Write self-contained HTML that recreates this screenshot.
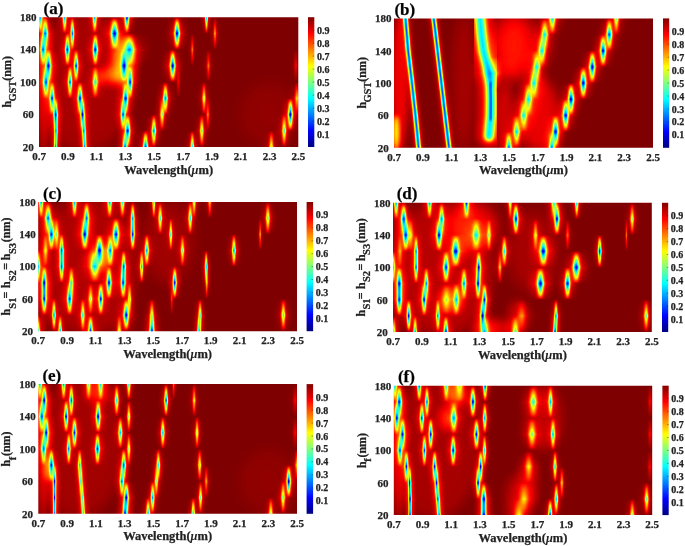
<!DOCTYPE html><html><head><meta charset="utf-8"><style>html,body{margin:0;padding:0;background:#fff;width:685px;height:546px;overflow:hidden}svg{display:block;will-change:transform}</style></head><body>
<svg width="685" height="546" viewBox="0 0 685 546">
<defs>
<filter id="jet" x="0" y="0" width="1" height="1" color-interpolation-filters="sRGB"><feComponentTransfer><feFuncR type="table" tableValues="0 0 0 0 0.5 1 1 1 0.5"/><feFuncG type="table" tableValues="0 0 0.5 1 1 1 0.5 0 0"/><feFuncB type="table" tableValues="0.5 1 1 1 0.5 0 0 0 0"/></feComponentTransfer></filter>
<linearGradient id="cbg" x1="0" y1="1" x2="0" y2="0"><stop offset="0" stop-color="#000080"/><stop offset="0.125" stop-color="#0000ff"/><stop offset="0.375" stop-color="#00ffff"/><stop offset="0.5" stop-color="#80ff80"/><stop offset="0.625" stop-color="#ffff00"/><stop offset="0.875" stop-color="#ff0000"/><stop offset="1" stop-color="#800000"/></linearGradient>
<linearGradient id="hp" x1="0" y1="0" x2="1" y2="0"><stop offset="0.0000" stop-opacity="0.000"/><stop offset="0.0167" stop-opacity="0.004"/><stop offset="0.0333" stop-opacity="0.009"/><stop offset="0.0500" stop-opacity="0.015"/><stop offset="0.0667" stop-opacity="0.023"/><stop offset="0.0833" stop-opacity="0.033"/><stop offset="0.1000" stop-opacity="0.046"/><stop offset="0.1167" stop-opacity="0.061"/><stop offset="0.1333" stop-opacity="0.079"/><stop offset="0.1500" stop-opacity="0.100"/><stop offset="0.1667" stop-opacity="0.126"/><stop offset="0.1833" stop-opacity="0.155"/><stop offset="0.2000" stop-opacity="0.189"/><stop offset="0.2167" stop-opacity="0.227"/><stop offset="0.2333" stop-opacity="0.270"/><stop offset="0.2500" stop-opacity="0.317"/><stop offset="0.2667" stop-opacity="0.368"/><stop offset="0.2833" stop-opacity="0.423"/><stop offset="0.3000" stop-opacity="0.481"/><stop offset="0.3167" stop-opacity="0.541"/><stop offset="0.3333" stop-opacity="0.602"/><stop offset="0.3500" stop-opacity="0.663"/><stop offset="0.3667" stop-opacity="0.723"/><stop offset="0.3833" stop-opacity="0.780"/><stop offset="0.4000" stop-opacity="0.833"/><stop offset="0.4167" stop-opacity="0.881"/><stop offset="0.4333" stop-opacity="0.922"/><stop offset="0.4500" stop-opacity="0.956"/><stop offset="0.4667" stop-opacity="0.980"/><stop offset="0.4833" stop-opacity="0.995"/><stop offset="0.5000" stop-opacity="1.000"/><stop offset="0.5167" stop-opacity="0.995"/><stop offset="0.5333" stop-opacity="0.980"/><stop offset="0.5500" stop-opacity="0.956"/><stop offset="0.5667" stop-opacity="0.922"/><stop offset="0.5833" stop-opacity="0.881"/><stop offset="0.6000" stop-opacity="0.833"/><stop offset="0.6167" stop-opacity="0.780"/><stop offset="0.6333" stop-opacity="0.723"/><stop offset="0.6500" stop-opacity="0.663"/><stop offset="0.6667" stop-opacity="0.602"/><stop offset="0.6833" stop-opacity="0.541"/><stop offset="0.7000" stop-opacity="0.481"/><stop offset="0.7167" stop-opacity="0.423"/><stop offset="0.7333" stop-opacity="0.368"/><stop offset="0.7500" stop-opacity="0.317"/><stop offset="0.7667" stop-opacity="0.270"/><stop offset="0.7833" stop-opacity="0.227"/><stop offset="0.8000" stop-opacity="0.189"/><stop offset="0.8167" stop-opacity="0.155"/><stop offset="0.8333" stop-opacity="0.126"/><stop offset="0.8500" stop-opacity="0.100"/><stop offset="0.8667" stop-opacity="0.079"/><stop offset="0.8833" stop-opacity="0.061"/><stop offset="0.9000" stop-opacity="0.046"/><stop offset="0.9167" stop-opacity="0.033"/><stop offset="0.9333" stop-opacity="0.023"/><stop offset="0.9500" stop-opacity="0.015"/><stop offset="0.9667" stop-opacity="0.009"/><stop offset="0.9833" stop-opacity="0.004"/><stop offset="1.0000" stop-opacity="0.000"/></linearGradient>
<linearGradient id="tg" x1="0" y1="0" x2="0" y2="1"><stop offset="0.0000" stop-color="#fff" stop-opacity="0.0"/><stop offset="0.0750" stop-color="#fff" stop-opacity="0.15"/><stop offset="0.1500" stop-color="#fff" stop-opacity="0.3"/><stop offset="0.2500" stop-color="#fff" stop-opacity="0.47"/><stop offset="0.3500" stop-color="#fff" stop-opacity="0.64"/><stop offset="0.4250" stop-color="#fff" stop-opacity="0.8"/><stop offset="0.5000" stop-color="#fff" stop-opacity="1.0"/><stop offset="0.5750" stop-color="#fff" stop-opacity="0.8"/><stop offset="0.6500" stop-color="#fff" stop-opacity="0.64"/><stop offset="0.7500" stop-color="#fff" stop-opacity="0.47"/><stop offset="0.8500" stop-color="#fff" stop-opacity="0.3"/><stop offset="0.9250" stop-color="#fff" stop-opacity="0.15"/><stop offset="1.0000" stop-color="#fff" stop-opacity="0.0"/></linearGradient>
<mask id="tent" style="mask-type:alpha" maskContentUnits="objectBoundingBox" x="0" y="0" width="1" height="1"><rect width="1" height="1" fill="url(#tg)"/></mask>
<filter id="b0_6" x="-50%" y="-50%" width="200%" height="200%"><feGaussianBlur stdDeviation="0.6"/></filter>
<filter id="b1" x="-50%" y="-50%" width="200%" height="200%"><feGaussianBlur stdDeviation="1"/></filter>
<filter id="b1_2" x="-50%" y="-50%" width="200%" height="200%"><feGaussianBlur stdDeviation="1.2"/></filter>
<filter id="b1_5" x="-50%" y="-50%" width="200%" height="200%"><feGaussianBlur stdDeviation="1.5"/></filter>
<filter id="b2" x="-50%" y="-50%" width="200%" height="200%"><feGaussianBlur stdDeviation="2"/></filter>
<filter id="b2_3" x="-50%" y="-50%" width="200%" height="200%"><feGaussianBlur stdDeviation="2.3"/></filter>
<filter id="b2_5" x="-50%" y="-50%" width="200%" height="200%"><feGaussianBlur stdDeviation="2.5"/></filter>
<filter id="b3" x="-50%" y="-50%" width="200%" height="200%"><feGaussianBlur stdDeviation="3"/></filter>
<filter id="b4" x="-50%" y="-50%" width="200%" height="200%"><feGaussianBlur stdDeviation="4"/></filter>
<filter id="b5" x="-50%" y="-50%" width="200%" height="200%"><feGaussianBlur stdDeviation="5"/></filter>
<filter id="b6" x="-50%" y="-50%" width="200%" height="200%"><feGaussianBlur stdDeviation="6"/></filter>
<filter id="b8" x="-50%" y="-50%" width="200%" height="200%"><feGaussianBlur stdDeviation="8"/></filter>
<clipPath id="clipa"><rect x="39" y="17.2" width="259.30" height="129.80"/></clipPath>
<clipPath id="clipb"><rect x="394" y="18.4" width="259.00" height="129.40"/></clipPath>
<clipPath id="clipc"><rect x="38.2" y="202" width="258.80" height="129.20"/></clipPath>
<clipPath id="clipd"><rect x="393" y="202.8" width="258.80" height="129.20"/></clipPath>
<clipPath id="clipe"><rect x="38.3" y="384.1" width="258.70" height="129.70"/></clipPath>
<clipPath id="clipf"><rect x="393.8" y="385.7" width="258.40" height="129.40"/></clipPath>
</defs>
<g clip-path="url(#clipa)"><g filter="url(#jet)">
<rect x="34" y="12.2" width="269.30" height="139.80" fill="#fff"/>
<ellipse cx="84.0" cy="82.1" rx="50.0" ry="69.0" fill="#000" opacity="0.035" filter="url(#b6)"/>
<ellipse cx="44.0" cy="82.1" rx="7.0" ry="69.0" fill="#000" opacity="0.07" filter="url(#b3)"/>
<ellipse cx="123.0" cy="61.8" rx="12.0" ry="24.3" fill="#000" opacity="0.2" filter="url(#b5)"/>
<ellipse cx="109.0" cy="75.6" rx="12.0" ry="8.1" fill="#000" opacity="0.15" filter="url(#b4)"/>
<ellipse cx="269.0" cy="114.5" rx="30.0" ry="32.5" fill="#000" opacity="0.015" filter="url(#b8)"/>
<rect x="36.2" y="1.0" width="8.1" height="32.5" fill="url(#hp)" mask="url(#tent)" opacity="0.7"/>
<rect x="28.1" y="-0.6" width="24.3" height="35.7" fill="url(#hp)" mask="url(#tent)" opacity="0.119"/>
<rect x="61.1" y="1.0" width="7.0" height="32.5" fill="url(#hp)" mask="url(#tent)" opacity="0.7"/>
<rect x="54.1" y="-0.6" width="21.1" height="35.7" fill="url(#hp)" mask="url(#tent)" opacity="0.119"/>
<rect x="90.9" y="1.0" width="7.6" height="32.5" fill="url(#hp)" mask="url(#tent)" opacity="0.7"/>
<rect x="83.4" y="-0.6" width="22.7" height="35.7" fill="url(#hp)" mask="url(#tent)" opacity="0.119"/>
<rect x="122.6" y="1.0" width="8.6" height="32.5" fill="url(#hp)" mask="url(#tent)" opacity="0.9"/>
<rect x="113.9" y="-0.6" width="25.9" height="35.7" fill="url(#hp)" mask="url(#tent)" opacity="0.153"/>
<rect x="203.8" y="1.0" width="5.4" height="32.5" fill="url(#hp)" mask="url(#tent)" opacity="0.65"/>
<rect x="198.4" y="-0.6" width="16.2" height="35.7" fill="url(#hp)" mask="url(#tent)" opacity="0.111"/>
<rect x="40.4" y="17.2" width="9.7" height="32.5" fill="url(#hp)" mask="url(#tent)" opacity="0.75"/>
<rect x="30.7" y="15.6" width="29.2" height="35.7" fill="url(#hp)" mask="url(#tent)" opacity="0.128"/>
<rect x="69.1" y="17.2" width="6.5" height="32.5" fill="url(#hp)" mask="url(#tent)" opacity="0.75"/>
<rect x="62.6" y="15.6" width="19.4" height="35.7" fill="url(#hp)" mask="url(#tent)" opacity="0.128"/>
<rect x="108.0" y="17.2" width="13.0" height="32.5" fill="url(#hp)" mask="url(#tent)" opacity="0.92"/>
<rect x="95.1" y="15.6" width="38.9" height="35.7" fill="url(#hp)" mask="url(#tent)" opacity="0.156"/>
<rect x="172.2" y="17.2" width="9.7" height="32.5" fill="url(#hp)" mask="url(#tent)" opacity="0.92"/>
<rect x="162.5" y="15.6" width="29.2" height="35.7" fill="url(#hp)" mask="url(#tent)" opacity="0.156"/>
<rect x="212.0" y="17.2" width="5.9" height="32.5" fill="url(#hp)" mask="url(#tent)" opacity="0.25"/>
<rect x="206.1" y="15.6" width="17.8" height="35.7" fill="url(#hp)" mask="url(#tent)" opacity="0.043"/>
<rect x="38.3" y="33.4" width="9.7" height="32.5" fill="url(#hp)" mask="url(#tent)" opacity="0.75"/>
<rect x="28.6" y="31.8" width="29.2" height="35.7" fill="url(#hp)" mask="url(#tent)" opacity="0.128"/>
<rect x="63.6" y="33.4" width="7.6" height="32.5" fill="url(#hp)" mask="url(#tent)" opacity="0.88"/>
<rect x="56.1" y="31.8" width="22.7" height="35.7" fill="url(#hp)" mask="url(#tent)" opacity="0.150"/>
<rect x="91.0" y="33.4" width="8.6" height="32.5" fill="url(#hp)" mask="url(#tent)" opacity="0.9"/>
<rect x="82.3" y="31.8" width="25.9" height="35.7" fill="url(#hp)" mask="url(#tent)" opacity="0.153"/>
<rect x="120.3" y="33.4" width="18.4" height="32.5" fill="url(#hp)" mask="url(#tent)" opacity="0.66"/>
<rect x="102.0" y="31.8" width="55.1" height="35.7" fill="url(#hp)" mask="url(#tent)" opacity="0.112"/>
<rect x="189.6" y="33.4" width="5.4" height="32.5" fill="url(#hp)" mask="url(#tent)" opacity="0.2"/>
<rect x="184.2" y="31.8" width="16.2" height="35.7" fill="url(#hp)" mask="url(#tent)" opacity="0.034"/>
<rect x="43.6" y="49.6" width="9.7" height="32.5" fill="url(#hp)" mask="url(#tent)" opacity="0.88"/>
<rect x="33.9" y="48.0" width="29.2" height="35.7" fill="url(#hp)" mask="url(#tent)" opacity="0.150"/>
<rect x="72.3" y="49.6" width="7.6" height="32.5" fill="url(#hp)" mask="url(#tent)" opacity="0.82"/>
<rect x="64.8" y="48.0" width="22.7" height="35.7" fill="url(#hp)" mask="url(#tent)" opacity="0.139"/>
<rect x="118.9" y="49.6" width="10.3" height="32.5" fill="url(#hp)" mask="url(#tent)" opacity="0.92"/>
<rect x="108.6" y="48.0" width="30.8" height="35.7" fill="url(#hp)" mask="url(#tent)" opacity="0.156"/>
<rect x="167.8" y="49.6" width="9.7" height="32.5" fill="url(#hp)" mask="url(#tent)" opacity="0.92"/>
<rect x="158.1" y="48.0" width="29.2" height="35.7" fill="url(#hp)" mask="url(#tent)" opacity="0.156"/>
<rect x="205.2" y="49.6" width="6.5" height="32.5" fill="url(#hp)" mask="url(#tent)" opacity="0.2"/>
<rect x="198.7" y="48.0" width="19.4" height="35.7" fill="url(#hp)" mask="url(#tent)" opacity="0.034"/>
<rect x="291.9" y="49.6" width="8.1" height="32.5" fill="url(#hp)" mask="url(#tent)" opacity="0.1"/>
<rect x="283.9" y="48.0" width="24.3" height="35.7" fill="url(#hp)" mask="url(#tent)" opacity="0.017"/>
<rect x="41.1" y="65.9" width="9.7" height="32.5" fill="url(#hp)" mask="url(#tent)" opacity="0.8"/>
<rect x="31.4" y="64.3" width="29.2" height="35.7" fill="url(#hp)" mask="url(#tent)" opacity="0.136"/>
<rect x="66.2" y="65.9" width="7.6" height="32.5" fill="url(#hp)" mask="url(#tent)" opacity="0.75"/>
<rect x="58.7" y="64.3" width="22.7" height="35.7" fill="url(#hp)" mask="url(#tent)" opacity="0.128"/>
<rect x="90.4" y="65.9" width="9.7" height="32.5" fill="url(#hp)" mask="url(#tent)" opacity="0.55"/>
<rect x="80.7" y="64.3" width="29.2" height="35.7" fill="url(#hp)" mask="url(#tent)" opacity="0.094"/>
<rect x="125.8" y="65.9" width="8.6" height="32.5" fill="url(#hp)" mask="url(#tent)" opacity="0.82"/>
<rect x="117.1" y="64.3" width="25.9" height="35.7" fill="url(#hp)" mask="url(#tent)" opacity="0.139"/>
<rect x="175.4" y="65.9" width="5.9" height="32.5" fill="url(#hp)" mask="url(#tent)" opacity="0.1"/>
<rect x="169.5" y="64.3" width="17.8" height="35.7" fill="url(#hp)" mask="url(#tent)" opacity="0.017"/>
<rect x="47.8" y="82.1" width="8.6" height="32.5" fill="url(#hp)" mask="url(#tent)" opacity="0.82"/>
<rect x="39.1" y="80.5" width="25.9" height="35.7" fill="url(#hp)" mask="url(#tent)" opacity="0.139"/>
<rect x="75.7" y="82.1" width="8.6" height="32.5" fill="url(#hp)" mask="url(#tent)" opacity="0.86"/>
<rect x="67.0" y="80.5" width="25.9" height="35.7" fill="url(#hp)" mask="url(#tent)" opacity="0.146"/>
<rect x="121.0" y="82.1" width="9.2" height="32.5" fill="url(#hp)" mask="url(#tent)" opacity="0.9"/>
<rect x="111.8" y="80.5" width="27.5" height="35.7" fill="url(#hp)" mask="url(#tent)" opacity="0.153"/>
<rect x="161.1" y="82.1" width="8.6" height="32.5" fill="url(#hp)" mask="url(#tent)" opacity="0.72"/>
<rect x="152.4" y="80.5" width="25.9" height="35.7" fill="url(#hp)" mask="url(#tent)" opacity="0.122"/>
<rect x="200.5" y="82.1" width="7.0" height="32.5" fill="url(#hp)" mask="url(#tent)" opacity="0.42"/>
<rect x="193.5" y="80.5" width="21.1" height="35.7" fill="url(#hp)" mask="url(#tent)" opacity="0.071"/>
<rect x="292.7" y="82.1" width="8.6" height="32.5" fill="url(#hp)" mask="url(#tent)" opacity="0.3"/>
<rect x="284.0" y="80.5" width="25.9" height="35.7" fill="url(#hp)" mask="url(#tent)" opacity="0.051"/>
<rect x="52.1" y="98.3" width="7.0" height="32.5" fill="url(#hp)" mask="url(#tent)" opacity="0.9"/>
<rect x="45.1" y="96.7" width="21.1" height="35.7" fill="url(#hp)" mask="url(#tent)" opacity="0.153"/>
<rect x="78.7" y="98.3" width="7.6" height="32.5" fill="url(#hp)" mask="url(#tent)" opacity="0.9"/>
<rect x="71.2" y="96.7" width="22.7" height="35.7" fill="url(#hp)" mask="url(#tent)" opacity="0.153"/>
<rect x="118.8" y="98.3" width="8.6" height="32.5" fill="url(#hp)" mask="url(#tent)" opacity="0.78"/>
<rect x="110.1" y="96.7" width="25.9" height="35.7" fill="url(#hp)" mask="url(#tent)" opacity="0.133"/>
<rect x="158.1" y="98.3" width="8.1" height="32.5" fill="url(#hp)" mask="url(#tent)" opacity="0.45"/>
<rect x="150.0" y="96.7" width="24.3" height="35.7" fill="url(#hp)" mask="url(#tent)" opacity="0.077"/>
<rect x="204.6" y="98.3" width="6.5" height="32.5" fill="url(#hp)" mask="url(#tent)" opacity="0.22"/>
<rect x="198.1" y="96.7" width="19.4" height="35.7" fill="url(#hp)" mask="url(#tent)" opacity="0.037"/>
<rect x="286.1" y="98.3" width="8.6" height="32.5" fill="url(#hp)" mask="url(#tent)" opacity="0.92"/>
<rect x="277.4" y="96.7" width="25.9" height="35.7" fill="url(#hp)" mask="url(#tent)" opacity="0.156"/>
<rect x="53.0" y="114.6" width="5.9" height="32.5" fill="url(#hp)" mask="url(#tent)" opacity="0.72"/>
<rect x="47.1" y="112.9" width="17.8" height="35.7" fill="url(#hp)" mask="url(#tent)" opacity="0.122"/>
<rect x="80.6" y="114.6" width="6.5" height="32.5" fill="url(#hp)" mask="url(#tent)" opacity="0.72"/>
<rect x="74.1" y="112.9" width="19.4" height="35.7" fill="url(#hp)" mask="url(#tent)" opacity="0.122"/>
<rect x="123.0" y="114.6" width="9.2" height="32.5" fill="url(#hp)" mask="url(#tent)" opacity="0.9"/>
<rect x="113.8" y="112.9" width="27.5" height="35.7" fill="url(#hp)" mask="url(#tent)" opacity="0.153"/>
<rect x="149.8" y="114.6" width="8.1" height="32.5" fill="url(#hp)" mask="url(#tent)" opacity="0.72"/>
<rect x="141.7" y="112.9" width="24.3" height="35.7" fill="url(#hp)" mask="url(#tent)" opacity="0.122"/>
<rect x="198.0" y="114.6" width="7.6" height="32.5" fill="url(#hp)" mask="url(#tent)" opacity="0.5"/>
<rect x="190.5" y="112.9" width="22.7" height="35.7" fill="url(#hp)" mask="url(#tent)" opacity="0.085"/>
<rect x="280.1" y="114.6" width="8.1" height="32.5" fill="url(#hp)" mask="url(#tent)" opacity="0.52"/>
<rect x="272.0" y="112.9" width="24.3" height="35.7" fill="url(#hp)" mask="url(#tent)" opacity="0.088"/>
<rect x="52.6" y="130.8" width="5.9" height="32.5" fill="url(#hp)" mask="url(#tent)" opacity="0.72"/>
<rect x="46.7" y="129.2" width="17.8" height="35.7" fill="url(#hp)" mask="url(#tent)" opacity="0.122"/>
<rect x="81.5" y="130.8" width="6.5" height="32.5" fill="url(#hp)" mask="url(#tent)" opacity="0.72"/>
<rect x="75.0" y="129.2" width="19.4" height="35.7" fill="url(#hp)" mask="url(#tent)" opacity="0.122"/>
<rect x="120.7" y="130.8" width="8.6" height="32.5" fill="url(#hp)" mask="url(#tent)" opacity="0.78"/>
<rect x="112.0" y="129.2" width="25.9" height="35.7" fill="url(#hp)" mask="url(#tent)" opacity="0.133"/>
<rect x="141.2" y="130.8" width="8.6" height="32.5" fill="url(#hp)" mask="url(#tent)" opacity="0.86"/>
<rect x="132.5" y="129.2" width="25.9" height="35.7" fill="url(#hp)" mask="url(#tent)" opacity="0.146"/>
<rect x="188.8" y="130.8" width="7.0" height="32.5" fill="url(#hp)" mask="url(#tent)" opacity="0.62"/>
<rect x="181.8" y="129.2" width="21.1" height="35.7" fill="url(#hp)" mask="url(#tent)" opacity="0.105"/>
<rect x="267.3" y="130.8" width="8.1" height="32.5" fill="url(#hp)" mask="url(#tent)" opacity="0.42"/>
<rect x="259.2" y="129.2" width="24.3" height="35.7" fill="url(#hp)" mask="url(#tent)" opacity="0.071"/>
</g></g>
<rect x="308" y="17.2" width="6.30" height="129.80" fill="url(#cbg)"/>
<line x1="312.7" y1="134.0" x2="314.3" y2="134.0" stroke="#222" stroke-width="0.7" stroke-opacity="0.6"/>
<line x1="312.7" y1="121.0" x2="314.3" y2="121.0" stroke="#222" stroke-width="0.7" stroke-opacity="0.6"/>
<line x1="312.7" y1="108.1" x2="314.3" y2="108.1" stroke="#222" stroke-width="0.7" stroke-opacity="0.6"/>
<line x1="312.7" y1="95.1" x2="314.3" y2="95.1" stroke="#222" stroke-width="0.7" stroke-opacity="0.6"/>
<line x1="312.7" y1="82.1" x2="314.3" y2="82.1" stroke="#222" stroke-width="0.7" stroke-opacity="0.6"/>
<line x1="312.7" y1="69.1" x2="314.3" y2="69.1" stroke="#222" stroke-width="0.7" stroke-opacity="0.6"/>
<line x1="312.7" y1="56.1" x2="314.3" y2="56.1" stroke="#222" stroke-width="0.7" stroke-opacity="0.6"/>
<line x1="312.7" y1="43.2" x2="314.3" y2="43.2" stroke="#222" stroke-width="0.7" stroke-opacity="0.6"/>
<line x1="312.7" y1="30.2" x2="314.3" y2="30.2" stroke="#222" stroke-width="0.7" stroke-opacity="0.6"/>
<text x="316.9" y="137.5" style="font-family:'Liberation Serif',serif;font-weight:bold;stroke:#222;stroke-width:0.25px;font-size:10px" fill="#222">0.1</text>
<text x="316.9" y="124.5" style="font-family:'Liberation Serif',serif;font-weight:bold;stroke:#222;stroke-width:0.25px;font-size:10px" fill="#222">0.2</text>
<text x="316.9" y="111.6" style="font-family:'Liberation Serif',serif;font-weight:bold;stroke:#222;stroke-width:0.25px;font-size:10px" fill="#222">0.3</text>
<text x="316.9" y="98.6" style="font-family:'Liberation Serif',serif;font-weight:bold;stroke:#222;stroke-width:0.25px;font-size:10px" fill="#222">0.4</text>
<text x="316.9" y="85.6" style="font-family:'Liberation Serif',serif;font-weight:bold;stroke:#222;stroke-width:0.25px;font-size:10px" fill="#222">0.5</text>
<text x="316.9" y="72.6" style="font-family:'Liberation Serif',serif;font-weight:bold;stroke:#222;stroke-width:0.25px;font-size:10px" fill="#222">0.6</text>
<text x="316.9" y="59.6" style="font-family:'Liberation Serif',serif;font-weight:bold;stroke:#222;stroke-width:0.25px;font-size:10px" fill="#222">0.7</text>
<text x="316.9" y="46.7" style="font-family:'Liberation Serif',serif;font-weight:bold;stroke:#222;stroke-width:0.25px;font-size:10px" fill="#222">0.8</text>
<text x="316.9" y="33.7" style="font-family:'Liberation Serif',serif;font-weight:bold;stroke:#222;stroke-width:0.25px;font-size:10px" fill="#222">0.9</text>
<text x="28.2" y="150.8" text-anchor="middle" style="font-family:'Liberation Serif',serif;font-weight:bold;stroke:#222;stroke-width:0.25px;font-size:11px" fill="#222">20</text>
<text x="28.2" y="118.3" text-anchor="middle" style="font-family:'Liberation Serif',serif;font-weight:bold;stroke:#222;stroke-width:0.25px;font-size:11px" fill="#222">60</text>
<text x="28.2" y="85.9" text-anchor="middle" style="font-family:'Liberation Serif',serif;font-weight:bold;stroke:#222;stroke-width:0.25px;font-size:11px" fill="#222">100</text>
<text x="28.2" y="53.4" text-anchor="middle" style="font-family:'Liberation Serif',serif;font-weight:bold;stroke:#222;stroke-width:0.25px;font-size:11px" fill="#222">140</text>
<text x="28.2" y="21.0" text-anchor="middle" style="font-family:'Liberation Serif',serif;font-weight:bold;stroke:#222;stroke-width:0.25px;font-size:11px" fill="#222">180</text>
<text x="39.0" y="160.0" text-anchor="middle" style="font-family:'Liberation Serif',serif;font-weight:bold;stroke:#222;stroke-width:0.25px;font-size:11px" fill="#222">0.7</text>
<text x="67.8" y="160.0" text-anchor="middle" style="font-family:'Liberation Serif',serif;font-weight:bold;stroke:#222;stroke-width:0.25px;font-size:11px" fill="#222">0.9</text>
<text x="96.6" y="160.0" text-anchor="middle" style="font-family:'Liberation Serif',serif;font-weight:bold;stroke:#222;stroke-width:0.25px;font-size:11px" fill="#222">1.1</text>
<text x="125.4" y="160.0" text-anchor="middle" style="font-family:'Liberation Serif',serif;font-weight:bold;stroke:#222;stroke-width:0.25px;font-size:11px" fill="#222">1.3</text>
<text x="154.2" y="160.0" text-anchor="middle" style="font-family:'Liberation Serif',serif;font-weight:bold;stroke:#222;stroke-width:0.25px;font-size:11px" fill="#222">1.5</text>
<text x="183.1" y="160.0" text-anchor="middle" style="font-family:'Liberation Serif',serif;font-weight:bold;stroke:#222;stroke-width:0.25px;font-size:11px" fill="#222">1.7</text>
<text x="211.9" y="160.0" text-anchor="middle" style="font-family:'Liberation Serif',serif;font-weight:bold;stroke:#222;stroke-width:0.25px;font-size:11px" fill="#222">1.9</text>
<text x="240.7" y="160.0" text-anchor="middle" style="font-family:'Liberation Serif',serif;font-weight:bold;stroke:#222;stroke-width:0.25px;font-size:11px" fill="#222">2.1</text>
<text x="269.5" y="160.0" text-anchor="middle" style="font-family:'Liberation Serif',serif;font-weight:bold;stroke:#222;stroke-width:0.25px;font-size:11px" fill="#222">2.3</text>
<text x="298.3" y="160.0" text-anchor="middle" style="font-family:'Liberation Serif',serif;font-weight:bold;stroke:#222;stroke-width:0.25px;font-size:11px" fill="#222">2.5</text>
<text x="168.7" y="173.5" text-anchor="middle" style="font-family:'Liberation Serif',serif;font-weight:bold;stroke:#222;stroke-width:0.25px;font-size:12.5px" fill="#222">Wavelength(<tspan style="font-style:italic;stroke-width:0">&#956;</tspan>m)</text>
<text x="43.5" y="13.7" style="font-family:'Liberation Serif',serif;font-weight:bold;stroke:#222;stroke-width:0.25px;font-size:17px" fill="#000">(a)</text>
<text transform="rotate(-90)" x="-107.6" y="10.7" style="font-family:'Liberation Serif',serif;font-weight:bold;stroke:#222;stroke-width:0.25px;font-size:12px" fill="#222">h</text>
<text transform="rotate(-90)" x="-101.6" y="16.3" style="font-family:'Liberation Serif',serif;font-weight:bold;stroke:#222;stroke-width:0.25px;font-size:10.5px" fill="#222">GST</text>
<text transform="rotate(-90)" x="-80.7" y="10.7" style="font-family:'Liberation Serif',serif;font-weight:bold;stroke:#222;stroke-width:0.25px;font-size:12px" fill="#222">(nm)</text>
<g clip-path="url(#clipb)"><g filter="url(#jet)">
<rect x="389" y="13.399999999999999" width="269.00" height="139.40" fill="#fff"/>
<ellipse cx="400.0" cy="83.1" rx="8.0" ry="68.7" fill="#000" opacity="0.11" filter="url(#b3)"/>
<ellipse cx="396.0" cy="133.2" rx="3.0" ry="17.8" fill="#000" opacity="0.35" filter="url(#b2)"/>
<ellipse cx="464.0" cy="83.1" rx="12.0" ry="68.7" fill="#000" opacity="0.035" filter="url(#b6)"/>
<ellipse cx="514.0" cy="46.7" rx="22.0" ry="32.4" fill="#000" opacity="0.14" filter="url(#b8)"/>
<ellipse cx="539.0" cy="115.5" rx="20.0" ry="36.4" fill="#000" opacity="0.1" filter="url(#b6)"/>
<ellipse cx="504.0" cy="115.5" rx="10.0" ry="32.4" fill="#000" opacity="0.08" filter="url(#b5)"/>
<rect x="503.4" y="131.6" width="10.8" height="32.4" fill="url(#hp)" mask="url(#tent)" opacity="0.78"/>
<rect x="492.6" y="130.0" width="32.4" height="35.6" fill="url(#hp)" mask="url(#tent)" opacity="0.133"/>
<rect x="510.4" y="115.5" width="12.4" height="32.4" fill="url(#hp)" mask="url(#tent)" opacity="0.62"/>
<rect x="498.0" y="113.8" width="37.3" height="35.6" fill="url(#hp)" mask="url(#tent)" opacity="0.105"/>
<rect x="517.2" y="99.3" width="13.0" height="32.4" fill="url(#hp)" mask="url(#tent)" opacity="0.55"/>
<rect x="504.3" y="97.7" width="38.9" height="35.6" fill="url(#hp)" mask="url(#tent)" opacity="0.094"/>
<rect x="522.0" y="83.1" width="13.0" height="32.4" fill="url(#hp)" mask="url(#tent)" opacity="0.58"/>
<rect x="509.1" y="81.5" width="38.9" height="35.6" fill="url(#hp)" mask="url(#tent)" opacity="0.099"/>
<rect x="527.2" y="66.9" width="13.5" height="32.4" fill="url(#hp)" mask="url(#tent)" opacity="0.58"/>
<rect x="513.8" y="65.3" width="40.5" height="35.6" fill="url(#hp)" mask="url(#tent)" opacity="0.099"/>
<rect x="530.0" y="50.8" width="13.5" height="32.4" fill="url(#hp)" mask="url(#tent)" opacity="0.58"/>
<rect x="516.5" y="49.1" width="40.5" height="35.6" fill="url(#hp)" mask="url(#tent)" opacity="0.099"/>
<rect x="535.2" y="34.6" width="13.5" height="32.4" fill="url(#hp)" mask="url(#tent)" opacity="0.6"/>
<rect x="521.8" y="33.0" width="40.5" height="35.6" fill="url(#hp)" mask="url(#tent)" opacity="0.102"/>
<rect x="538.2" y="18.4" width="13.0" height="32.4" fill="url(#hp)" mask="url(#tent)" opacity="0.6"/>
<rect x="525.3" y="16.8" width="38.9" height="35.6" fill="url(#hp)" mask="url(#tent)" opacity="0.102"/>
<rect x="546.4" y="2.2" width="11.9" height="32.4" fill="url(#hp)" mask="url(#tent)" opacity="0.65"/>
<rect x="534.5" y="0.6" width="35.6" height="35.6" fill="url(#hp)" mask="url(#tent)" opacity="0.111"/>
<rect x="546.7" y="131.6" width="10.3" height="32.4" fill="url(#hp)" mask="url(#tent)" opacity="0.75"/>
<rect x="536.4" y="130.0" width="30.8" height="35.6" fill="url(#hp)" mask="url(#tent)" opacity="0.128"/>
<rect x="550.2" y="115.5" width="10.8" height="32.4" fill="url(#hp)" mask="url(#tent)" opacity="0.9"/>
<rect x="539.4" y="113.8" width="32.4" height="35.6" fill="url(#hp)" mask="url(#tent)" opacity="0.153"/>
<rect x="560.3" y="99.3" width="10.8" height="32.4" fill="url(#hp)" mask="url(#tent)" opacity="0.9"/>
<rect x="549.5" y="97.7" width="32.4" height="35.6" fill="url(#hp)" mask="url(#tent)" opacity="0.153"/>
<rect x="565.6" y="83.1" width="10.8" height="32.4" fill="url(#hp)" mask="url(#tent)" opacity="0.92"/>
<rect x="554.8" y="81.5" width="32.4" height="35.6" fill="url(#hp)" mask="url(#tent)" opacity="0.156"/>
<rect x="577.9" y="66.9" width="10.8" height="32.4" fill="url(#hp)" mask="url(#tent)" opacity="0.92"/>
<rect x="567.1" y="65.3" width="32.4" height="35.6" fill="url(#hp)" mask="url(#tent)" opacity="0.156"/>
<rect x="586.9" y="50.8" width="10.8" height="32.4" fill="url(#hp)" mask="url(#tent)" opacity="0.92"/>
<rect x="576.1" y="49.1" width="32.4" height="35.6" fill="url(#hp)" mask="url(#tent)" opacity="0.156"/>
<rect x="597.7" y="34.6" width="10.8" height="32.4" fill="url(#hp)" mask="url(#tent)" opacity="0.9"/>
<rect x="586.9" y="33.0" width="32.4" height="35.6" fill="url(#hp)" mask="url(#tent)" opacity="0.153"/>
<rect x="603.9" y="18.4" width="10.8" height="32.4" fill="url(#hp)" mask="url(#tent)" opacity="0.8"/>
<rect x="593.1" y="16.8" width="32.4" height="35.6" fill="url(#hp)" mask="url(#tent)" opacity="0.136"/>
<rect x="611.5" y="2.2" width="9.7" height="32.4" fill="url(#hp)" mask="url(#tent)" opacity="0.5"/>
<rect x="601.8" y="0.6" width="29.2" height="35.6" fill="url(#hp)" mask="url(#tent)" opacity="0.085"/>
<rect x="480.9" y="57.2" width="24.3" height="32.4" fill="url(#hp)" mask="url(#tent)" opacity="0.3"/>
<rect x="456.6" y="55.6" width="72.9" height="35.6" fill="url(#hp)" mask="url(#tent)" opacity="0.051"/>
<path d="M405.2,14.4 L408.2,50.8 L412.0,83.1 L415.5,115.5 L419.0,151.8" fill="none" stroke="#000" stroke-width="7" stroke-opacity="0.12" stroke-linecap="round" stroke-linejoin="round" filter="url(#b2_5)"/>
<path d="M433.3,14.4 L441.4,83.1 L449.5,151.8" fill="none" stroke="#000" stroke-width="7" stroke-opacity="0.12" stroke-linecap="round" stroke-linejoin="round" filter="url(#b2_5)"/>
<path d="M405.2,14.4 L408.2,50.8 L412.0,83.1 L415.5,115.5 L419.0,151.8" fill="none" stroke="#000" stroke-width="3" stroke-opacity="0.93" stroke-linecap="round" stroke-linejoin="round" filter="url(#b1)"/>
<path d="M433.3,14.4 L441.4,83.1 L449.5,151.8" fill="none" stroke="#000" stroke-width="3" stroke-opacity="0.95" stroke-linecap="round" stroke-linejoin="round" filter="url(#b1)"/>
<path d="M479.8,14.4 L481.5,34.6 L483.5,50.8 L487.5,66.9 L490.5,83.1 L491.0,99.3 L490.8,115.5 L489.5,130.0 L489.0,136.5" fill="none" stroke="#000" stroke-width="20" stroke-opacity="0.18" stroke-linecap="round" stroke-linejoin="round" filter="url(#b4)"/>
<path d="M479.8,14.4 L481.5,34.6 L483.5,50.8 L487.5,66.9 L490.5,83.1 L491.0,99.3 L490.8,115.5 L489.5,130.0 L489.0,136.5" fill="none" stroke="#000" stroke-width="8" stroke-opacity="0.6" stroke-linecap="round" stroke-linejoin="round" filter="url(#b2_3)"/>
<path d="M490.2,83.1 L491.0,99.3 L490.8,119.5" fill="none" stroke="#000" stroke-width="2.5" stroke-opacity="0.5" stroke-linecap="round" stroke-linejoin="round" filter="url(#b1_2)"/>
</g></g>
<rect x="663" y="18.4" width="6.20" height="129.40" fill="url(#cbg)"/>
<line x1="667.6" y1="134.9" x2="669.2" y2="134.9" stroke="#222" stroke-width="0.7" stroke-opacity="0.6"/>
<line x1="667.6" y1="121.9" x2="669.2" y2="121.9" stroke="#222" stroke-width="0.7" stroke-opacity="0.6"/>
<line x1="667.6" y1="109.0" x2="669.2" y2="109.0" stroke="#222" stroke-width="0.7" stroke-opacity="0.6"/>
<line x1="667.6" y1="96.0" x2="669.2" y2="96.0" stroke="#222" stroke-width="0.7" stroke-opacity="0.6"/>
<line x1="667.6" y1="83.1" x2="669.2" y2="83.1" stroke="#222" stroke-width="0.7" stroke-opacity="0.6"/>
<line x1="667.6" y1="70.2" x2="669.2" y2="70.2" stroke="#222" stroke-width="0.7" stroke-opacity="0.6"/>
<line x1="667.6" y1="57.2" x2="669.2" y2="57.2" stroke="#222" stroke-width="0.7" stroke-opacity="0.6"/>
<line x1="667.6" y1="44.3" x2="669.2" y2="44.3" stroke="#222" stroke-width="0.7" stroke-opacity="0.6"/>
<line x1="667.6" y1="31.3" x2="669.2" y2="31.3" stroke="#222" stroke-width="0.7" stroke-opacity="0.6"/>
<text x="671.8" y="138.4" style="font-family:'Liberation Serif',serif;font-weight:bold;stroke:#222;stroke-width:0.25px;font-size:10px" fill="#222">0.1</text>
<text x="671.8" y="125.4" style="font-family:'Liberation Serif',serif;font-weight:bold;stroke:#222;stroke-width:0.25px;font-size:10px" fill="#222">0.2</text>
<text x="671.8" y="112.5" style="font-family:'Liberation Serif',serif;font-weight:bold;stroke:#222;stroke-width:0.25px;font-size:10px" fill="#222">0.3</text>
<text x="671.8" y="99.5" style="font-family:'Liberation Serif',serif;font-weight:bold;stroke:#222;stroke-width:0.25px;font-size:10px" fill="#222">0.4</text>
<text x="671.8" y="86.6" style="font-family:'Liberation Serif',serif;font-weight:bold;stroke:#222;stroke-width:0.25px;font-size:10px" fill="#222">0.5</text>
<text x="671.8" y="73.7" style="font-family:'Liberation Serif',serif;font-weight:bold;stroke:#222;stroke-width:0.25px;font-size:10px" fill="#222">0.6</text>
<text x="671.8" y="60.7" style="font-family:'Liberation Serif',serif;font-weight:bold;stroke:#222;stroke-width:0.25px;font-size:10px" fill="#222">0.7</text>
<text x="671.8" y="47.8" style="font-family:'Liberation Serif',serif;font-weight:bold;stroke:#222;stroke-width:0.25px;font-size:10px" fill="#222">0.8</text>
<text x="671.8" y="34.8" style="font-family:'Liberation Serif',serif;font-weight:bold;stroke:#222;stroke-width:0.25px;font-size:10px" fill="#222">0.9</text>
<text x="383.2" y="151.6" text-anchor="middle" style="font-family:'Liberation Serif',serif;font-weight:bold;stroke:#222;stroke-width:0.25px;font-size:11px" fill="#222">20</text>
<text x="383.2" y="119.3" text-anchor="middle" style="font-family:'Liberation Serif',serif;font-weight:bold;stroke:#222;stroke-width:0.25px;font-size:11px" fill="#222">60</text>
<text x="383.2" y="86.9" text-anchor="middle" style="font-family:'Liberation Serif',serif;font-weight:bold;stroke:#222;stroke-width:0.25px;font-size:11px" fill="#222">100</text>
<text x="383.2" y="54.5" text-anchor="middle" style="font-family:'Liberation Serif',serif;font-weight:bold;stroke:#222;stroke-width:0.25px;font-size:11px" fill="#222">140</text>
<text x="383.2" y="22.2" text-anchor="middle" style="font-family:'Liberation Serif',serif;font-weight:bold;stroke:#222;stroke-width:0.25px;font-size:11px" fill="#222">180</text>
<text x="394.0" y="160.8" text-anchor="middle" style="font-family:'Liberation Serif',serif;font-weight:bold;stroke:#222;stroke-width:0.25px;font-size:11px" fill="#222">0.7</text>
<text x="422.8" y="160.8" text-anchor="middle" style="font-family:'Liberation Serif',serif;font-weight:bold;stroke:#222;stroke-width:0.25px;font-size:11px" fill="#222">0.9</text>
<text x="451.6" y="160.8" text-anchor="middle" style="font-family:'Liberation Serif',serif;font-weight:bold;stroke:#222;stroke-width:0.25px;font-size:11px" fill="#222">1.1</text>
<text x="480.3" y="160.8" text-anchor="middle" style="font-family:'Liberation Serif',serif;font-weight:bold;stroke:#222;stroke-width:0.25px;font-size:11px" fill="#222">1.3</text>
<text x="509.1" y="160.8" text-anchor="middle" style="font-family:'Liberation Serif',serif;font-weight:bold;stroke:#222;stroke-width:0.25px;font-size:11px" fill="#222">1.5</text>
<text x="537.9" y="160.8" text-anchor="middle" style="font-family:'Liberation Serif',serif;font-weight:bold;stroke:#222;stroke-width:0.25px;font-size:11px" fill="#222">1.7</text>
<text x="566.7" y="160.8" text-anchor="middle" style="font-family:'Liberation Serif',serif;font-weight:bold;stroke:#222;stroke-width:0.25px;font-size:11px" fill="#222">1.9</text>
<text x="595.4" y="160.8" text-anchor="middle" style="font-family:'Liberation Serif',serif;font-weight:bold;stroke:#222;stroke-width:0.25px;font-size:11px" fill="#222">2.1</text>
<text x="624.2" y="160.8" text-anchor="middle" style="font-family:'Liberation Serif',serif;font-weight:bold;stroke:#222;stroke-width:0.25px;font-size:11px" fill="#222">2.3</text>
<text x="653.0" y="160.8" text-anchor="middle" style="font-family:'Liberation Serif',serif;font-weight:bold;stroke:#222;stroke-width:0.25px;font-size:11px" fill="#222">2.5</text>
<text x="523.5" y="174.3" text-anchor="middle" style="font-family:'Liberation Serif',serif;font-weight:bold;stroke:#222;stroke-width:0.25px;font-size:12.5px" fill="#222">Wavelength(<tspan style="font-style:italic;stroke-width:0">&#956;</tspan>m)</text>
<text x="394.4" y="14.9" style="font-family:'Liberation Serif',serif;font-weight:bold;stroke:#222;stroke-width:0.25px;font-size:17px" fill="#000">(b)</text>
<text transform="rotate(-90)" x="-108.6" y="365.7" style="font-family:'Liberation Serif',serif;font-weight:bold;stroke:#222;stroke-width:0.25px;font-size:12px" fill="#222">h</text>
<text transform="rotate(-90)" x="-102.6" y="371.3" style="font-family:'Liberation Serif',serif;font-weight:bold;stroke:#222;stroke-width:0.25px;font-size:10.5px" fill="#222">GST</text>
<text transform="rotate(-90)" x="-81.7" y="365.7" style="font-family:'Liberation Serif',serif;font-weight:bold;stroke:#222;stroke-width:0.25px;font-size:12px" fill="#222">(nm)</text>
<g clip-path="url(#clipc)"><g filter="url(#jet)">
<rect x="33.2" y="197" width="268.80" height="139.20" fill="#fff"/>
<ellipse cx="88.2" cy="266.6" rx="50.0" ry="68.6" fill="#000" opacity="0.045" filter="url(#b6)"/>
<ellipse cx="100.2" cy="258.5" rx="12.0" ry="11.3" fill="#000" opacity="0.15" filter="url(#b4)"/>
<ellipse cx="43.2" cy="266.6" rx="6.0" ry="64.6" fill="#000" opacity="0.06" filter="url(#b3)"/>
<ellipse cx="168.2" cy="242.4" rx="25.0" ry="40.4" fill="#000" opacity="0.03" filter="url(#b8)"/>
<rect x="37.3" y="185.8" width="7.6" height="32.3" fill="url(#hp)" mask="url(#tent)" opacity="0.7"/>
<rect x="29.8" y="184.2" width="22.7" height="35.5" fill="url(#hp)" mask="url(#tent)" opacity="0.119"/>
<rect x="70.7" y="185.8" width="7.6" height="32.3" fill="url(#hp)" mask="url(#tent)" opacity="0.7"/>
<rect x="63.2" y="184.2" width="22.7" height="35.5" fill="url(#hp)" mask="url(#tent)" opacity="0.119"/>
<rect x="105.6" y="185.8" width="8.1" height="32.3" fill="url(#hp)" mask="url(#tent)" opacity="0.7"/>
<rect x="97.5" y="184.2" width="24.3" height="35.5" fill="url(#hp)" mask="url(#tent)" opacity="0.119"/>
<rect x="118.4" y="185.8" width="8.1" height="32.3" fill="url(#hp)" mask="url(#tent)" opacity="0.6"/>
<rect x="110.2" y="184.2" width="24.3" height="35.5" fill="url(#hp)" mask="url(#tent)" opacity="0.102"/>
<rect x="151.1" y="185.8" width="5.4" height="32.3" fill="url(#hp)" mask="url(#tent)" opacity="0.6"/>
<rect x="145.7" y="184.2" width="16.2" height="35.5" fill="url(#hp)" mask="url(#tent)" opacity="0.102"/>
<rect x="190.9" y="185.8" width="6.5" height="32.3" fill="url(#hp)" mask="url(#tent)" opacity="0.45"/>
<rect x="184.4" y="184.2" width="19.4" height="35.5" fill="url(#hp)" mask="url(#tent)" opacity="0.077"/>
<rect x="206.5" y="185.8" width="6.5" height="32.3" fill="url(#hp)" mask="url(#tent)" opacity="0.3"/>
<rect x="200.0" y="184.2" width="19.4" height="35.5" fill="url(#hp)" mask="url(#tent)" opacity="0.051"/>
<rect x="42.8" y="202.0" width="10.8" height="32.3" fill="url(#hp)" mask="url(#tent)" opacity="0.75"/>
<rect x="32.0" y="200.4" width="32.4" height="35.5" fill="url(#hp)" mask="url(#tent)" opacity="0.128"/>
<rect x="82.0" y="202.0" width="9.2" height="32.3" fill="url(#hp)" mask="url(#tent)" opacity="0.75"/>
<rect x="72.8" y="200.4" width="27.5" height="35.5" fill="url(#hp)" mask="url(#tent)" opacity="0.128"/>
<rect x="129.2" y="202.0" width="7.0" height="32.3" fill="url(#hp)" mask="url(#tent)" opacity="0.7"/>
<rect x="122.2" y="200.4" width="21.1" height="35.5" fill="url(#hp)" mask="url(#tent)" opacity="0.119"/>
<rect x="156.7" y="202.0" width="7.0" height="32.3" fill="url(#hp)" mask="url(#tent)" opacity="0.55"/>
<rect x="149.7" y="200.4" width="21.1" height="35.5" fill="url(#hp)" mask="url(#tent)" opacity="0.094"/>
<rect x="186.7" y="202.0" width="7.0" height="32.3" fill="url(#hp)" mask="url(#tent)" opacity="0.6"/>
<rect x="179.7" y="200.4" width="21.1" height="35.5" fill="url(#hp)" mask="url(#tent)" opacity="0.102"/>
<rect x="263.8" y="202.0" width="8.1" height="32.3" fill="url(#hp)" mask="url(#tent)" opacity="0.5"/>
<rect x="255.7" y="200.4" width="24.3" height="35.5" fill="url(#hp)" mask="url(#tent)" opacity="0.085"/>
<rect x="46.8" y="218.2" width="9.2" height="32.3" fill="url(#hp)" mask="url(#tent)" opacity="0.85"/>
<rect x="37.6" y="216.5" width="27.5" height="35.5" fill="url(#hp)" mask="url(#tent)" opacity="0.145"/>
<rect x="52.5" y="218.2" width="8.1" height="32.3" fill="url(#hp)" mask="url(#tent)" opacity="0.4"/>
<rect x="44.3" y="216.5" width="24.3" height="35.5" fill="url(#hp)" mask="url(#tent)" opacity="0.068"/>
<rect x="79.6" y="218.2" width="10.3" height="32.3" fill="url(#hp)" mask="url(#tent)" opacity="0.9"/>
<rect x="69.3" y="216.5" width="30.8" height="35.5" fill="url(#hp)" mask="url(#tent)" opacity="0.153"/>
<rect x="110.6" y="218.2" width="10.8" height="32.3" fill="url(#hp)" mask="url(#tent)" opacity="0.88"/>
<rect x="99.8" y="216.5" width="32.4" height="35.5" fill="url(#hp)" mask="url(#tent)" opacity="0.150"/>
<rect x="129.2" y="218.2" width="7.0" height="32.3" fill="url(#hp)" mask="url(#tent)" opacity="0.85"/>
<rect x="122.2" y="216.5" width="21.1" height="35.5" fill="url(#hp)" mask="url(#tent)" opacity="0.145"/>
<rect x="168.1" y="218.2" width="5.4" height="32.3" fill="url(#hp)" mask="url(#tent)" opacity="0.55"/>
<rect x="162.7" y="216.5" width="16.2" height="35.5" fill="url(#hp)" mask="url(#tent)" opacity="0.094"/>
<rect x="258.0" y="218.2" width="4.3" height="32.3" fill="url(#hp)" mask="url(#tent)" opacity="0.25"/>
<rect x="253.7" y="216.5" width="13.0" height="35.5" fill="url(#hp)" mask="url(#tent)" opacity="0.043"/>
<rect x="41.5" y="234.3" width="8.1" height="32.3" fill="url(#hp)" mask="url(#tent)" opacity="0.3"/>
<rect x="33.5" y="232.7" width="24.3" height="35.5" fill="url(#hp)" mask="url(#tent)" opacity="0.051"/>
<rect x="58.1" y="234.3" width="7.0" height="32.3" fill="url(#hp)" mask="url(#tent)" opacity="0.8"/>
<rect x="51.1" y="232.7" width="21.1" height="35.5" fill="url(#hp)" mask="url(#tent)" opacity="0.136"/>
<rect x="94.1" y="234.3" width="10.8" height="32.3" fill="url(#hp)" mask="url(#tent)" opacity="0.9"/>
<rect x="83.3" y="232.7" width="32.4" height="35.5" fill="url(#hp)" mask="url(#tent)" opacity="0.153"/>
<rect x="105.4" y="234.3" width="9.7" height="32.3" fill="url(#hp)" mask="url(#tent)" opacity="0.7"/>
<rect x="95.7" y="232.7" width="29.2" height="35.5" fill="url(#hp)" mask="url(#tent)" opacity="0.119"/>
<rect x="143.0" y="234.3" width="7.6" height="32.3" fill="url(#hp)" mask="url(#tent)" opacity="0.7"/>
<rect x="135.5" y="232.7" width="22.7" height="35.5" fill="url(#hp)" mask="url(#tent)" opacity="0.119"/>
<rect x="179.0" y="234.3" width="7.0" height="32.3" fill="url(#hp)" mask="url(#tent)" opacity="0.45"/>
<rect x="172.0" y="232.7" width="21.1" height="35.5" fill="url(#hp)" mask="url(#tent)" opacity="0.077"/>
<rect x="230.4" y="234.3" width="7.0" height="32.3" fill="url(#hp)" mask="url(#tent)" opacity="0.7"/>
<rect x="223.4" y="232.7" width="21.1" height="35.5" fill="url(#hp)" mask="url(#tent)" opacity="0.119"/>
<rect x="33.9" y="250.5" width="8.1" height="32.3" fill="url(#hp)" mask="url(#tent)" opacity="0.7"/>
<rect x="25.8" y="248.8" width="24.3" height="35.5" fill="url(#hp)" mask="url(#tent)" opacity="0.119"/>
<rect x="58.1" y="250.5" width="7.0" height="32.3" fill="url(#hp)" mask="url(#tent)" opacity="0.8"/>
<rect x="51.1" y="248.8" width="21.1" height="35.5" fill="url(#hp)" mask="url(#tent)" opacity="0.136"/>
<rect x="86.6" y="250.5" width="16.2" height="32.3" fill="url(#hp)" mask="url(#tent)" opacity="0.6"/>
<rect x="70.4" y="248.8" width="48.6" height="35.5" fill="url(#hp)" mask="url(#tent)" opacity="0.102"/>
<rect x="120.2" y="250.5" width="7.0" height="32.3" fill="url(#hp)" mask="url(#tent)" opacity="0.8"/>
<rect x="113.2" y="248.8" width="21.1" height="35.5" fill="url(#hp)" mask="url(#tent)" opacity="0.136"/>
<rect x="138.7" y="250.5" width="5.9" height="32.3" fill="url(#hp)" mask="url(#tent)" opacity="0.65"/>
<rect x="132.8" y="248.8" width="17.8" height="35.5" fill="url(#hp)" mask="url(#tent)" opacity="0.111"/>
<rect x="203.5" y="250.5" width="5.4" height="32.3" fill="url(#hp)" mask="url(#tent)" opacity="0.65"/>
<rect x="198.1" y="248.8" width="16.2" height="35.5" fill="url(#hp)" mask="url(#tent)" opacity="0.111"/>
<rect x="40.2" y="266.6" width="8.1" height="32.3" fill="url(#hp)" mask="url(#tent)" opacity="0.9"/>
<rect x="32.2" y="265.0" width="24.3" height="35.5" fill="url(#hp)" mask="url(#tent)" opacity="0.153"/>
<rect x="67.3" y="266.6" width="8.1" height="32.3" fill="url(#hp)" mask="url(#tent)" opacity="0.55"/>
<rect x="59.2" y="265.0" width="24.3" height="35.5" fill="url(#hp)" mask="url(#tent)" opacity="0.094"/>
<rect x="104.7" y="266.6" width="8.6" height="32.3" fill="url(#hp)" mask="url(#tent)" opacity="0.88"/>
<rect x="96.0" y="265.0" width="25.9" height="35.5" fill="url(#hp)" mask="url(#tent)" opacity="0.150"/>
<rect x="119.1" y="266.6" width="8.1" height="32.3" fill="url(#hp)" mask="url(#tent)" opacity="0.85"/>
<rect x="111.0" y="265.0" width="24.3" height="35.5" fill="url(#hp)" mask="url(#tent)" opacity="0.145"/>
<rect x="171.2" y="266.6" width="7.0" height="32.3" fill="url(#hp)" mask="url(#tent)" opacity="0.88"/>
<rect x="164.2" y="265.0" width="21.1" height="35.5" fill="url(#hp)" mask="url(#tent)" opacity="0.150"/>
<rect x="204.0" y="266.6" width="5.4" height="32.3" fill="url(#hp)" mask="url(#tent)" opacity="0.3"/>
<rect x="198.6" y="265.0" width="16.2" height="35.5" fill="url(#hp)" mask="url(#tent)" opacity="0.051"/>
<rect x="40.2" y="282.8" width="8.1" height="32.3" fill="url(#hp)" mask="url(#tent)" opacity="0.85"/>
<rect x="32.2" y="281.1" width="24.3" height="35.5" fill="url(#hp)" mask="url(#tent)" opacity="0.145"/>
<rect x="65.3" y="282.8" width="8.6" height="32.3" fill="url(#hp)" mask="url(#tent)" opacity="0.85"/>
<rect x="56.6" y="281.1" width="25.9" height="35.5" fill="url(#hp)" mask="url(#tent)" opacity="0.145"/>
<rect x="86.5" y="282.8" width="8.1" height="32.3" fill="url(#hp)" mask="url(#tent)" opacity="0.4"/>
<rect x="78.3" y="281.1" width="24.3" height="35.5" fill="url(#hp)" mask="url(#tent)" opacity="0.068"/>
<rect x="96.7" y="282.8" width="8.1" height="32.3" fill="url(#hp)" mask="url(#tent)" opacity="0.85"/>
<rect x="88.5" y="281.1" width="24.3" height="35.5" fill="url(#hp)" mask="url(#tent)" opacity="0.145"/>
<rect x="126.3" y="282.8" width="6.5" height="32.3" fill="url(#hp)" mask="url(#tent)" opacity="0.45"/>
<rect x="119.8" y="281.1" width="19.4" height="35.5" fill="url(#hp)" mask="url(#tent)" opacity="0.077"/>
<rect x="169.6" y="282.8" width="4.3" height="32.3" fill="url(#hp)" mask="url(#tent)" opacity="0.15"/>
<rect x="165.3" y="281.1" width="13.0" height="35.5" fill="url(#hp)" mask="url(#tent)" opacity="0.026"/>
<rect x="50.7" y="298.9" width="6.5" height="32.3" fill="url(#hp)" mask="url(#tent)" opacity="0.7"/>
<rect x="44.2" y="297.3" width="19.4" height="35.5" fill="url(#hp)" mask="url(#tent)" opacity="0.119"/>
<rect x="79.3" y="298.9" width="7.0" height="32.3" fill="url(#hp)" mask="url(#tent)" opacity="0.55"/>
<rect x="72.3" y="297.3" width="21.1" height="35.5" fill="url(#hp)" mask="url(#tent)" opacity="0.094"/>
<rect x="121.4" y="298.9" width="9.7" height="32.3" fill="url(#hp)" mask="url(#tent)" opacity="0.9"/>
<rect x="111.7" y="297.3" width="29.2" height="35.5" fill="url(#hp)" mask="url(#tent)" opacity="0.153"/>
<rect x="147.8" y="298.9" width="8.1" height="32.3" fill="url(#hp)" mask="url(#tent)" opacity="0.45"/>
<rect x="139.8" y="297.3" width="24.3" height="35.5" fill="url(#hp)" mask="url(#tent)" opacity="0.077"/>
<rect x="196.8" y="298.9" width="6.5" height="32.3" fill="url(#hp)" mask="url(#tent)" opacity="0.55"/>
<rect x="190.3" y="297.3" width="19.4" height="35.5" fill="url(#hp)" mask="url(#tent)" opacity="0.094"/>
<rect x="279.3" y="298.9" width="8.1" height="32.3" fill="url(#hp)" mask="url(#tent)" opacity="0.5"/>
<rect x="271.2" y="297.3" width="24.3" height="35.5" fill="url(#hp)" mask="url(#tent)" opacity="0.085"/>
<rect x="33.9" y="315.1" width="8.1" height="32.3" fill="url(#hp)" mask="url(#tent)" opacity="0.6"/>
<rect x="25.8" y="313.4" width="24.3" height="35.5" fill="url(#hp)" mask="url(#tent)" opacity="0.102"/>
<rect x="56.9" y="315.1" width="6.5" height="32.3" fill="url(#hp)" mask="url(#tent)" opacity="0.7"/>
<rect x="50.4" y="313.4" width="19.4" height="35.5" fill="url(#hp)" mask="url(#tent)" opacity="0.119"/>
<rect x="86.5" y="315.1" width="8.1" height="32.3" fill="url(#hp)" mask="url(#tent)" opacity="0.85"/>
<rect x="78.3" y="313.4" width="24.3" height="35.5" fill="url(#hp)" mask="url(#tent)" opacity="0.145"/>
<rect x="115.2" y="315.1" width="8.1" height="32.3" fill="url(#hp)" mask="url(#tent)" opacity="0.4"/>
<rect x="107.0" y="313.4" width="24.3" height="35.5" fill="url(#hp)" mask="url(#tent)" opacity="0.068"/>
<rect x="147.6" y="315.1" width="8.6" height="32.3" fill="url(#hp)" mask="url(#tent)" opacity="0.9"/>
<rect x="138.9" y="313.4" width="25.9" height="35.5" fill="url(#hp)" mask="url(#tent)" opacity="0.153"/>
<rect x="195.8" y="315.1" width="6.5" height="32.3" fill="url(#hp)" mask="url(#tent)" opacity="0.7"/>
<rect x="189.3" y="313.4" width="19.4" height="35.5" fill="url(#hp)" mask="url(#tent)" opacity="0.119"/>
</g></g>
<rect x="306.6" y="202" width="6.50" height="129.20" fill="url(#cbg)"/>
<line x1="311.5" y1="318.3" x2="313.1" y2="318.3" stroke="#222" stroke-width="0.7" stroke-opacity="0.6"/>
<line x1="311.5" y1="305.4" x2="313.1" y2="305.4" stroke="#222" stroke-width="0.7" stroke-opacity="0.6"/>
<line x1="311.5" y1="292.4" x2="313.1" y2="292.4" stroke="#222" stroke-width="0.7" stroke-opacity="0.6"/>
<line x1="311.5" y1="279.5" x2="313.1" y2="279.5" stroke="#222" stroke-width="0.7" stroke-opacity="0.6"/>
<line x1="311.5" y1="266.6" x2="313.1" y2="266.6" stroke="#222" stroke-width="0.7" stroke-opacity="0.6"/>
<line x1="311.5" y1="253.7" x2="313.1" y2="253.7" stroke="#222" stroke-width="0.7" stroke-opacity="0.6"/>
<line x1="311.5" y1="240.8" x2="313.1" y2="240.8" stroke="#222" stroke-width="0.7" stroke-opacity="0.6"/>
<line x1="311.5" y1="227.8" x2="313.1" y2="227.8" stroke="#222" stroke-width="0.7" stroke-opacity="0.6"/>
<line x1="311.5" y1="214.9" x2="313.1" y2="214.9" stroke="#222" stroke-width="0.7" stroke-opacity="0.6"/>
<text x="315.7" y="321.8" style="font-family:'Liberation Serif',serif;font-weight:bold;stroke:#222;stroke-width:0.25px;font-size:10px" fill="#222">0.1</text>
<text x="315.7" y="308.9" style="font-family:'Liberation Serif',serif;font-weight:bold;stroke:#222;stroke-width:0.25px;font-size:10px" fill="#222">0.2</text>
<text x="315.7" y="295.9" style="font-family:'Liberation Serif',serif;font-weight:bold;stroke:#222;stroke-width:0.25px;font-size:10px" fill="#222">0.3</text>
<text x="315.7" y="283.0" style="font-family:'Liberation Serif',serif;font-weight:bold;stroke:#222;stroke-width:0.25px;font-size:10px" fill="#222">0.4</text>
<text x="315.7" y="270.1" style="font-family:'Liberation Serif',serif;font-weight:bold;stroke:#222;stroke-width:0.25px;font-size:10px" fill="#222">0.5</text>
<text x="315.7" y="257.2" style="font-family:'Liberation Serif',serif;font-weight:bold;stroke:#222;stroke-width:0.25px;font-size:10px" fill="#222">0.6</text>
<text x="315.7" y="244.3" style="font-family:'Liberation Serif',serif;font-weight:bold;stroke:#222;stroke-width:0.25px;font-size:10px" fill="#222">0.7</text>
<text x="315.7" y="231.3" style="font-family:'Liberation Serif',serif;font-weight:bold;stroke:#222;stroke-width:0.25px;font-size:10px" fill="#222">0.8</text>
<text x="315.7" y="218.4" style="font-family:'Liberation Serif',serif;font-weight:bold;stroke:#222;stroke-width:0.25px;font-size:10px" fill="#222">0.9</text>
<text x="27.4" y="335.0" text-anchor="middle" style="font-family:'Liberation Serif',serif;font-weight:bold;stroke:#222;stroke-width:0.25px;font-size:11px" fill="#222">20</text>
<text x="27.4" y="302.7" text-anchor="middle" style="font-family:'Liberation Serif',serif;font-weight:bold;stroke:#222;stroke-width:0.25px;font-size:11px" fill="#222">60</text>
<text x="27.4" y="270.4" text-anchor="middle" style="font-family:'Liberation Serif',serif;font-weight:bold;stroke:#222;stroke-width:0.25px;font-size:11px" fill="#222">100</text>
<text x="27.4" y="238.1" text-anchor="middle" style="font-family:'Liberation Serif',serif;font-weight:bold;stroke:#222;stroke-width:0.25px;font-size:11px" fill="#222">140</text>
<text x="27.4" y="205.8" text-anchor="middle" style="font-family:'Liberation Serif',serif;font-weight:bold;stroke:#222;stroke-width:0.25px;font-size:11px" fill="#222">180</text>
<text x="38.2" y="344.2" text-anchor="middle" style="font-family:'Liberation Serif',serif;font-weight:bold;stroke:#222;stroke-width:0.25px;font-size:11px" fill="#222">0.7</text>
<text x="67.0" y="344.2" text-anchor="middle" style="font-family:'Liberation Serif',serif;font-weight:bold;stroke:#222;stroke-width:0.25px;font-size:11px" fill="#222">0.9</text>
<text x="95.7" y="344.2" text-anchor="middle" style="font-family:'Liberation Serif',serif;font-weight:bold;stroke:#222;stroke-width:0.25px;font-size:11px" fill="#222">1.1</text>
<text x="124.5" y="344.2" text-anchor="middle" style="font-family:'Liberation Serif',serif;font-weight:bold;stroke:#222;stroke-width:0.25px;font-size:11px" fill="#222">1.3</text>
<text x="153.2" y="344.2" text-anchor="middle" style="font-family:'Liberation Serif',serif;font-weight:bold;stroke:#222;stroke-width:0.25px;font-size:11px" fill="#222">1.5</text>
<text x="182.0" y="344.2" text-anchor="middle" style="font-family:'Liberation Serif',serif;font-weight:bold;stroke:#222;stroke-width:0.25px;font-size:11px" fill="#222">1.7</text>
<text x="210.7" y="344.2" text-anchor="middle" style="font-family:'Liberation Serif',serif;font-weight:bold;stroke:#222;stroke-width:0.25px;font-size:11px" fill="#222">1.9</text>
<text x="239.5" y="344.2" text-anchor="middle" style="font-family:'Liberation Serif',serif;font-weight:bold;stroke:#222;stroke-width:0.25px;font-size:11px" fill="#222">2.1</text>
<text x="268.2" y="344.2" text-anchor="middle" style="font-family:'Liberation Serif',serif;font-weight:bold;stroke:#222;stroke-width:0.25px;font-size:11px" fill="#222">2.3</text>
<text x="297.0" y="344.2" text-anchor="middle" style="font-family:'Liberation Serif',serif;font-weight:bold;stroke:#222;stroke-width:0.25px;font-size:11px" fill="#222">2.5</text>
<text x="167.6" y="357.7" text-anchor="middle" style="font-family:'Liberation Serif',serif;font-weight:bold;stroke:#222;stroke-width:0.25px;font-size:12.5px" fill="#222">Wavelength(<tspan style="font-style:italic;stroke-width:0">&#956;</tspan>m)</text>
<text x="42.9" y="198.5" style="font-family:'Liberation Serif',serif;font-weight:bold;stroke:#222;stroke-width:0.25px;font-size:17px" fill="#000">(c)</text>
<text transform="rotate(-90)" x="-315.6" y="9.9" style="font-family:'Liberation Serif',serif;font-weight:bold;stroke:#222;stroke-width:0.25px;font-size:12px" fill="#222">h</text>
<text transform="rotate(-90)" x="-308.7" y="15.5" style="font-family:'Liberation Serif',serif;font-weight:bold;stroke:#222;stroke-width:0.25px;font-size:10.5px" fill="#222">S1</text>
<text transform="rotate(-90)" x="-298.4" y="9.9" style="font-family:'Liberation Serif',serif;font-weight:bold;stroke:#222;stroke-width:0.25px;font-size:12px" fill="#222">=</text>
<text transform="rotate(-90)" x="-288.1" y="9.9" style="font-family:'Liberation Serif',serif;font-weight:bold;stroke:#222;stroke-width:0.25px;font-size:12px" fill="#222">h</text>
<text transform="rotate(-90)" x="-281.3" y="15.5" style="font-family:'Liberation Serif',serif;font-weight:bold;stroke:#222;stroke-width:0.25px;font-size:10.5px" fill="#222">S2</text>
<text transform="rotate(-90)" x="-269.8" y="9.9" style="font-family:'Liberation Serif',serif;font-weight:bold;stroke:#222;stroke-width:0.25px;font-size:12px" fill="#222">=</text>
<text transform="rotate(-90)" x="-260.3" y="9.9" style="font-family:'Liberation Serif',serif;font-weight:bold;stroke:#222;stroke-width:0.25px;font-size:12px" fill="#222">h</text>
<text transform="rotate(-90)" x="-254.1" y="15.5" style="font-family:'Liberation Serif',serif;font-weight:bold;stroke:#222;stroke-width:0.25px;font-size:10.5px" fill="#222">S3</text>
<text transform="rotate(-90)" x="-242.2" y="9.9" style="font-family:'Liberation Serif',serif;font-weight:bold;stroke:#222;stroke-width:0.25px;font-size:12px" fill="#222">(nm)</text>
<g clip-path="url(#clipd)"><g filter="url(#jet)">
<rect x="388" y="197.8" width="268.80" height="139.20" fill="#fff"/>
<ellipse cx="443.0" cy="267.4" rx="50.0" ry="68.6" fill="#000" opacity="0.05" filter="url(#b6)"/>
<ellipse cx="473.0" cy="227.0" rx="25.0" ry="24.2" fill="#000" opacity="0.1" filter="url(#b6)"/>
<ellipse cx="451.0" cy="299.7" rx="12.0" ry="12.1" fill="#000" opacity="0.12" filter="url(#b4)"/>
<ellipse cx="518.0" cy="315.9" rx="10.0" ry="16.1" fill="#000" opacity="0.06" filter="url(#b5)"/>
<ellipse cx="398.0" cy="267.4" rx="6.0" ry="64.6" fill="#000" opacity="0.06" filter="url(#b3)"/>
<ellipse cx="533.0" cy="251.2" rx="25.0" ry="40.4" fill="#000" opacity="0.04" filter="url(#b8)"/>
<ellipse cx="493.0" cy="328.0" rx="20.0" ry="8.1" fill="#000" opacity="0.1" filter="url(#b5)"/>
<rect x="392.3" y="186.7" width="7.6" height="32.3" fill="url(#hp)" mask="url(#tent)" opacity="0.7"/>
<rect x="384.8" y="185.0" width="22.7" height="35.5" fill="url(#hp)" mask="url(#tent)" opacity="0.119"/>
<rect x="425.7" y="186.7" width="7.6" height="32.3" fill="url(#hp)" mask="url(#tent)" opacity="0.7"/>
<rect x="418.2" y="185.0" width="22.7" height="35.5" fill="url(#hp)" mask="url(#tent)" opacity="0.119"/>
<rect x="462.2" y="186.7" width="8.6" height="32.3" fill="url(#hp)" mask="url(#tent)" opacity="0.85"/>
<rect x="453.5" y="185.0" width="25.9" height="35.5" fill="url(#hp)" mask="url(#tent)" opacity="0.145"/>
<rect x="506.9" y="186.7" width="6.5" height="32.3" fill="url(#hp)" mask="url(#tent)" opacity="0.45"/>
<rect x="500.4" y="185.0" width="19.4" height="35.5" fill="url(#hp)" mask="url(#tent)" opacity="0.077"/>
<rect x="549.1" y="186.7" width="9.7" height="32.3" fill="url(#hp)" mask="url(#tent)" opacity="0.6"/>
<rect x="539.4" y="185.0" width="29.2" height="35.5" fill="url(#hp)" mask="url(#tent)" opacity="0.102"/>
<rect x="573.5" y="186.7" width="6.5" height="32.3" fill="url(#hp)" mask="url(#tent)" opacity="0.65"/>
<rect x="567.0" y="185.0" width="19.4" height="35.5" fill="url(#hp)" mask="url(#tent)" opacity="0.111"/>
<rect x="398.9" y="202.8" width="9.7" height="32.3" fill="url(#hp)" mask="url(#tent)" opacity="0.85"/>
<rect x="389.2" y="201.2" width="29.2" height="35.5" fill="url(#hp)" mask="url(#tent)" opacity="0.145"/>
<rect x="437.3" y="202.8" width="8.6" height="32.3" fill="url(#hp)" mask="url(#tent)" opacity="0.7"/>
<rect x="428.6" y="201.2" width="25.9" height="35.5" fill="url(#hp)" mask="url(#tent)" opacity="0.119"/>
<rect x="511.6" y="202.8" width="8.6" height="32.3" fill="url(#hp)" mask="url(#tent)" opacity="0.9"/>
<rect x="502.9" y="201.2" width="25.9" height="35.5" fill="url(#hp)" mask="url(#tent)" opacity="0.153"/>
<rect x="552.3" y="202.8" width="9.2" height="32.3" fill="url(#hp)" mask="url(#tent)" opacity="0.9"/>
<rect x="543.1" y="201.2" width="27.5" height="35.5" fill="url(#hp)" mask="url(#tent)" opacity="0.153"/>
<rect x="628.4" y="202.8" width="7.6" height="32.3" fill="url(#hp)" mask="url(#tent)" opacity="0.45"/>
<rect x="620.9" y="201.2" width="22.7" height="35.5" fill="url(#hp)" mask="url(#tent)" opacity="0.077"/>
<rect x="401.1" y="219.0" width="9.2" height="32.3" fill="url(#hp)" mask="url(#tent)" opacity="0.88"/>
<rect x="391.9" y="217.3" width="27.5" height="35.5" fill="url(#hp)" mask="url(#tent)" opacity="0.150"/>
<rect x="404.8" y="219.0" width="10.8" height="32.3" fill="url(#hp)" mask="url(#tent)" opacity="0.3"/>
<rect x="394.0" y="217.3" width="32.4" height="35.5" fill="url(#hp)" mask="url(#tent)" opacity="0.051"/>
<rect x="434.2" y="219.0" width="9.7" height="32.3" fill="url(#hp)" mask="url(#tent)" opacity="0.9"/>
<rect x="424.5" y="217.3" width="29.2" height="35.5" fill="url(#hp)" mask="url(#tent)" opacity="0.153"/>
<rect x="469.4" y="219.0" width="13.5" height="32.3" fill="url(#hp)" mask="url(#tent)" opacity="0.55"/>
<rect x="455.9" y="217.3" width="40.5" height="35.5" fill="url(#hp)" mask="url(#tent)" opacity="0.094"/>
<rect x="485.5" y="219.0" width="7.0" height="32.3" fill="url(#hp)" mask="url(#tent)" opacity="0.4"/>
<rect x="478.5" y="217.3" width="21.1" height="35.5" fill="url(#hp)" mask="url(#tent)" opacity="0.068"/>
<rect x="531.5" y="219.0" width="8.1" height="32.3" fill="url(#hp)" mask="url(#tent)" opacity="0.35"/>
<rect x="523.4" y="217.3" width="24.3" height="35.5" fill="url(#hp)" mask="url(#tent)" opacity="0.059"/>
<rect x="564.1" y="219.0" width="7.0" height="32.3" fill="url(#hp)" mask="url(#tent)" opacity="0.2"/>
<rect x="557.1" y="217.3" width="21.1" height="35.5" fill="url(#hp)" mask="url(#tent)" opacity="0.034"/>
<rect x="624.5" y="219.0" width="3.8" height="32.3" fill="url(#hp)" mask="url(#tent)" opacity="0.2"/>
<rect x="620.7" y="217.3" width="11.3" height="35.5" fill="url(#hp)" mask="url(#tent)" opacity="0.034"/>
<rect x="395.9" y="235.1" width="8.1" height="32.3" fill="url(#hp)" mask="url(#tent)" opacity="0.2"/>
<rect x="387.9" y="233.5" width="24.3" height="35.5" fill="url(#hp)" mask="url(#tent)" opacity="0.034"/>
<rect x="412.8" y="235.1" width="6.5" height="32.3" fill="url(#hp)" mask="url(#tent)" opacity="0.7"/>
<rect x="406.3" y="233.5" width="19.4" height="35.5" fill="url(#hp)" mask="url(#tent)" opacity="0.119"/>
<rect x="449.2" y="235.1" width="13.0" height="32.3" fill="url(#hp)" mask="url(#tent)" opacity="0.92"/>
<rect x="436.3" y="233.5" width="38.9" height="35.5" fill="url(#hp)" mask="url(#tent)" opacity="0.156"/>
<rect x="500.3" y="235.1" width="8.1" height="32.3" fill="url(#hp)" mask="url(#tent)" opacity="0.6"/>
<rect x="492.2" y="233.5" width="24.3" height="35.5" fill="url(#hp)" mask="url(#tent)" opacity="0.102"/>
<rect x="536.8" y="235.1" width="13.0" height="32.3" fill="url(#hp)" mask="url(#tent)" opacity="0.92"/>
<rect x="523.9" y="233.5" width="38.9" height="35.5" fill="url(#hp)" mask="url(#tent)" opacity="0.156"/>
<rect x="596.4" y="235.1" width="6.5" height="32.3" fill="url(#hp)" mask="url(#tent)" opacity="0.88"/>
<rect x="589.9" y="233.5" width="19.4" height="35.5" fill="url(#hp)" mask="url(#tent)" opacity="0.150"/>
<rect x="388.8" y="251.2" width="8.1" height="32.3" fill="url(#hp)" mask="url(#tent)" opacity="0.65"/>
<rect x="380.8" y="249.6" width="24.3" height="35.5" fill="url(#hp)" mask="url(#tent)" opacity="0.111"/>
<rect x="412.8" y="251.2" width="6.5" height="32.3" fill="url(#hp)" mask="url(#tent)" opacity="0.75"/>
<rect x="406.3" y="249.6" width="19.4" height="35.5" fill="url(#hp)" mask="url(#tent)" opacity="0.128"/>
<rect x="441.2" y="251.2" width="9.7" height="32.3" fill="url(#hp)" mask="url(#tent)" opacity="0.85"/>
<rect x="431.5" y="249.6" width="29.2" height="35.5" fill="url(#hp)" mask="url(#tent)" opacity="0.145"/>
<rect x="474.9" y="251.2" width="7.6" height="32.3" fill="url(#hp)" mask="url(#tent)" opacity="0.9"/>
<rect x="467.4" y="249.6" width="22.7" height="35.5" fill="url(#hp)" mask="url(#tent)" opacity="0.153"/>
<rect x="496.4" y="251.2" width="7.0" height="32.3" fill="url(#hp)" mask="url(#tent)" opacity="0.3"/>
<rect x="489.4" y="249.6" width="21.1" height="35.5" fill="url(#hp)" mask="url(#tent)" opacity="0.051"/>
<rect x="569.8" y="251.2" width="13.0" height="32.3" fill="url(#hp)" mask="url(#tent)" opacity="0.9"/>
<rect x="556.9" y="249.6" width="38.9" height="35.5" fill="url(#hp)" mask="url(#tent)" opacity="0.153"/>
<rect x="395.0" y="267.4" width="8.6" height="32.3" fill="url(#hp)" mask="url(#tent)" opacity="0.9"/>
<rect x="386.3" y="265.8" width="25.9" height="35.5" fill="url(#hp)" mask="url(#tent)" opacity="0.153"/>
<rect x="422.5" y="267.4" width="7.6" height="32.3" fill="url(#hp)" mask="url(#tent)" opacity="0.7"/>
<rect x="415.0" y="265.8" width="22.7" height="35.5" fill="url(#hp)" mask="url(#tent)" opacity="0.119"/>
<rect x="459.7" y="267.4" width="8.6" height="32.3" fill="url(#hp)" mask="url(#tent)" opacity="0.7"/>
<rect x="451.0" y="265.8" width="25.9" height="35.5" fill="url(#hp)" mask="url(#tent)" opacity="0.119"/>
<rect x="474.3" y="267.4" width="7.6" height="32.3" fill="url(#hp)" mask="url(#tent)" opacity="0.9"/>
<rect x="466.8" y="265.8" width="22.7" height="35.5" fill="url(#hp)" mask="url(#tent)" opacity="0.153"/>
<rect x="534.2" y="267.4" width="12.4" height="32.3" fill="url(#hp)" mask="url(#tent)" opacity="0.92"/>
<rect x="521.8" y="265.8" width="37.3" height="35.5" fill="url(#hp)" mask="url(#tent)" opacity="0.156"/>
<rect x="562.7" y="267.4" width="9.7" height="32.3" fill="url(#hp)" mask="url(#tent)" opacity="0.9"/>
<rect x="553.0" y="265.8" width="29.2" height="35.5" fill="url(#hp)" mask="url(#tent)" opacity="0.153"/>
<rect x="395.0" y="283.6" width="8.6" height="32.3" fill="url(#hp)" mask="url(#tent)" opacity="0.85"/>
<rect x="386.3" y="281.9" width="25.9" height="35.5" fill="url(#hp)" mask="url(#tent)" opacity="0.145"/>
<rect x="420.1" y="283.6" width="8.1" height="32.3" fill="url(#hp)" mask="url(#tent)" opacity="0.85"/>
<rect x="412.0" y="281.9" width="24.3" height="35.5" fill="url(#hp)" mask="url(#tent)" opacity="0.145"/>
<rect x="439.4" y="283.6" width="13.5" height="32.3" fill="url(#hp)" mask="url(#tent)" opacity="0.3"/>
<rect x="425.9" y="281.9" width="40.5" height="35.5" fill="url(#hp)" mask="url(#tent)" opacity="0.051"/>
<rect x="451.5" y="283.6" width="9.7" height="32.3" fill="url(#hp)" mask="url(#tent)" opacity="0.6"/>
<rect x="441.8" y="281.9" width="29.2" height="35.5" fill="url(#hp)" mask="url(#tent)" opacity="0.102"/>
<rect x="480.4" y="283.6" width="8.1" height="32.3" fill="url(#hp)" mask="url(#tent)" opacity="0.85"/>
<rect x="472.4" y="281.9" width="24.3" height="35.5" fill="url(#hp)" mask="url(#tent)" opacity="0.145"/>
<rect x="405.2" y="299.7" width="7.0" height="32.3" fill="url(#hp)" mask="url(#tent)" opacity="0.88"/>
<rect x="398.2" y="298.1" width="21.1" height="35.5" fill="url(#hp)" mask="url(#tent)" opacity="0.150"/>
<rect x="434.6" y="299.7" width="6.5" height="32.3" fill="url(#hp)" mask="url(#tent)" opacity="0.7"/>
<rect x="428.1" y="298.1" width="19.4" height="35.5" fill="url(#hp)" mask="url(#tent)" opacity="0.119"/>
<rect x="478.3" y="299.7" width="8.6" height="32.3" fill="url(#hp)" mask="url(#tent)" opacity="0.92"/>
<rect x="469.6" y="298.1" width="25.9" height="35.5" fill="url(#hp)" mask="url(#tent)" opacity="0.156"/>
<rect x="513.6" y="299.7" width="16.2" height="32.3" fill="url(#hp)" mask="url(#tent)" opacity="0.2"/>
<rect x="497.4" y="298.1" width="48.6" height="35.5" fill="url(#hp)" mask="url(#tent)" opacity="0.034"/>
<rect x="552.7" y="299.7" width="6.5" height="32.3" fill="url(#hp)" mask="url(#tent)" opacity="0.7"/>
<rect x="546.2" y="298.1" width="19.4" height="35.5" fill="url(#hp)" mask="url(#tent)" opacity="0.119"/>
<rect x="641.9" y="299.7" width="8.6" height="32.3" fill="url(#hp)" mask="url(#tent)" opacity="0.5"/>
<rect x="633.2" y="298.1" width="25.9" height="35.5" fill="url(#hp)" mask="url(#tent)" opacity="0.085"/>
<rect x="389.6" y="315.9" width="8.1" height="32.3" fill="url(#hp)" mask="url(#tent)" opacity="0.5"/>
<rect x="381.5" y="314.2" width="24.3" height="35.5" fill="url(#hp)" mask="url(#tent)" opacity="0.085"/>
<rect x="411.9" y="315.9" width="6.5" height="32.3" fill="url(#hp)" mask="url(#tent)" opacity="0.7"/>
<rect x="405.4" y="314.2" width="19.4" height="35.5" fill="url(#hp)" mask="url(#tent)" opacity="0.119"/>
<rect x="442.1" y="315.9" width="7.6" height="32.3" fill="url(#hp)" mask="url(#tent)" opacity="0.88"/>
<rect x="434.6" y="314.2" width="22.7" height="35.5" fill="url(#hp)" mask="url(#tent)" opacity="0.150"/>
<rect x="477.5" y="315.9" width="14.0" height="32.3" fill="url(#hp)" mask="url(#tent)" opacity="0.65"/>
<rect x="463.4" y="314.2" width="42.1" height="35.5" fill="url(#hp)" mask="url(#tent)" opacity="0.111"/>
<rect x="509.4" y="315.9" width="11.9" height="32.3" fill="url(#hp)" mask="url(#tent)" opacity="0.5"/>
<rect x="497.5" y="314.2" width="35.6" height="35.5" fill="url(#hp)" mask="url(#tent)" opacity="0.085"/>
<rect x="551.8" y="315.9" width="6.5" height="32.3" fill="url(#hp)" mask="url(#tent)" opacity="0.85"/>
<rect x="545.3" y="314.2" width="19.4" height="35.5" fill="url(#hp)" mask="url(#tent)" opacity="0.145"/>
</g></g>
<rect x="662" y="202.8" width="6.20" height="129.20" fill="url(#cbg)"/>
<line x1="666.6" y1="319.1" x2="668.2" y2="319.1" stroke="#222" stroke-width="0.7" stroke-opacity="0.6"/>
<line x1="666.6" y1="306.2" x2="668.2" y2="306.2" stroke="#222" stroke-width="0.7" stroke-opacity="0.6"/>
<line x1="666.6" y1="293.2" x2="668.2" y2="293.2" stroke="#222" stroke-width="0.7" stroke-opacity="0.6"/>
<line x1="666.6" y1="280.3" x2="668.2" y2="280.3" stroke="#222" stroke-width="0.7" stroke-opacity="0.6"/>
<line x1="666.6" y1="267.4" x2="668.2" y2="267.4" stroke="#222" stroke-width="0.7" stroke-opacity="0.6"/>
<line x1="666.6" y1="254.5" x2="668.2" y2="254.5" stroke="#222" stroke-width="0.7" stroke-opacity="0.6"/>
<line x1="666.6" y1="241.6" x2="668.2" y2="241.6" stroke="#222" stroke-width="0.7" stroke-opacity="0.6"/>
<line x1="666.6" y1="228.6" x2="668.2" y2="228.6" stroke="#222" stroke-width="0.7" stroke-opacity="0.6"/>
<line x1="666.6" y1="215.7" x2="668.2" y2="215.7" stroke="#222" stroke-width="0.7" stroke-opacity="0.6"/>
<text x="670.8" y="322.6" style="font-family:'Liberation Serif',serif;font-weight:bold;stroke:#222;stroke-width:0.25px;font-size:10px" fill="#222">0.1</text>
<text x="670.8" y="309.7" style="font-family:'Liberation Serif',serif;font-weight:bold;stroke:#222;stroke-width:0.25px;font-size:10px" fill="#222">0.2</text>
<text x="670.8" y="296.7" style="font-family:'Liberation Serif',serif;font-weight:bold;stroke:#222;stroke-width:0.25px;font-size:10px" fill="#222">0.3</text>
<text x="670.8" y="283.8" style="font-family:'Liberation Serif',serif;font-weight:bold;stroke:#222;stroke-width:0.25px;font-size:10px" fill="#222">0.4</text>
<text x="670.8" y="270.9" style="font-family:'Liberation Serif',serif;font-weight:bold;stroke:#222;stroke-width:0.25px;font-size:10px" fill="#222">0.5</text>
<text x="670.8" y="258.0" style="font-family:'Liberation Serif',serif;font-weight:bold;stroke:#222;stroke-width:0.25px;font-size:10px" fill="#222">0.6</text>
<text x="670.8" y="245.1" style="font-family:'Liberation Serif',serif;font-weight:bold;stroke:#222;stroke-width:0.25px;font-size:10px" fill="#222">0.7</text>
<text x="670.8" y="232.1" style="font-family:'Liberation Serif',serif;font-weight:bold;stroke:#222;stroke-width:0.25px;font-size:10px" fill="#222">0.8</text>
<text x="670.8" y="219.2" style="font-family:'Liberation Serif',serif;font-weight:bold;stroke:#222;stroke-width:0.25px;font-size:10px" fill="#222">0.9</text>
<text x="382.2" y="335.8" text-anchor="middle" style="font-family:'Liberation Serif',serif;font-weight:bold;stroke:#222;stroke-width:0.25px;font-size:11px" fill="#222">20</text>
<text x="382.2" y="303.5" text-anchor="middle" style="font-family:'Liberation Serif',serif;font-weight:bold;stroke:#222;stroke-width:0.25px;font-size:11px" fill="#222">60</text>
<text x="382.2" y="271.2" text-anchor="middle" style="font-family:'Liberation Serif',serif;font-weight:bold;stroke:#222;stroke-width:0.25px;font-size:11px" fill="#222">100</text>
<text x="382.2" y="238.9" text-anchor="middle" style="font-family:'Liberation Serif',serif;font-weight:bold;stroke:#222;stroke-width:0.25px;font-size:11px" fill="#222">140</text>
<text x="382.2" y="206.6" text-anchor="middle" style="font-family:'Liberation Serif',serif;font-weight:bold;stroke:#222;stroke-width:0.25px;font-size:11px" fill="#222">180</text>
<text x="393.0" y="345.0" text-anchor="middle" style="font-family:'Liberation Serif',serif;font-weight:bold;stroke:#222;stroke-width:0.25px;font-size:11px" fill="#222">0.7</text>
<text x="421.8" y="345.0" text-anchor="middle" style="font-family:'Liberation Serif',serif;font-weight:bold;stroke:#222;stroke-width:0.25px;font-size:11px" fill="#222">0.9</text>
<text x="450.5" y="345.0" text-anchor="middle" style="font-family:'Liberation Serif',serif;font-weight:bold;stroke:#222;stroke-width:0.25px;font-size:11px" fill="#222">1.1</text>
<text x="479.3" y="345.0" text-anchor="middle" style="font-family:'Liberation Serif',serif;font-weight:bold;stroke:#222;stroke-width:0.25px;font-size:11px" fill="#222">1.3</text>
<text x="508.0" y="345.0" text-anchor="middle" style="font-family:'Liberation Serif',serif;font-weight:bold;stroke:#222;stroke-width:0.25px;font-size:11px" fill="#222">1.5</text>
<text x="536.8" y="345.0" text-anchor="middle" style="font-family:'Liberation Serif',serif;font-weight:bold;stroke:#222;stroke-width:0.25px;font-size:11px" fill="#222">1.7</text>
<text x="565.5" y="345.0" text-anchor="middle" style="font-family:'Liberation Serif',serif;font-weight:bold;stroke:#222;stroke-width:0.25px;font-size:11px" fill="#222">1.9</text>
<text x="594.3" y="345.0" text-anchor="middle" style="font-family:'Liberation Serif',serif;font-weight:bold;stroke:#222;stroke-width:0.25px;font-size:11px" fill="#222">2.1</text>
<text x="623.0" y="345.0" text-anchor="middle" style="font-family:'Liberation Serif',serif;font-weight:bold;stroke:#222;stroke-width:0.25px;font-size:11px" fill="#222">2.3</text>
<text x="651.8" y="345.0" text-anchor="middle" style="font-family:'Liberation Serif',serif;font-weight:bold;stroke:#222;stroke-width:0.25px;font-size:11px" fill="#222">2.5</text>
<text x="522.4" y="358.5" text-anchor="middle" style="font-family:'Liberation Serif',serif;font-weight:bold;stroke:#222;stroke-width:0.25px;font-size:12.5px" fill="#222">Wavelength(<tspan style="font-style:italic;stroke-width:0">&#956;</tspan>m)</text>
<text x="396.7" y="199.3" style="font-family:'Liberation Serif',serif;font-weight:bold;stroke:#222;stroke-width:0.25px;font-size:17px" fill="#000">(d)</text>
<text transform="rotate(-90)" x="-316.4" y="364.7" style="font-family:'Liberation Serif',serif;font-weight:bold;stroke:#222;stroke-width:0.25px;font-size:12px" fill="#222">h</text>
<text transform="rotate(-90)" x="-309.5" y="370.3" style="font-family:'Liberation Serif',serif;font-weight:bold;stroke:#222;stroke-width:0.25px;font-size:10.5px" fill="#222">S1</text>
<text transform="rotate(-90)" x="-299.2" y="364.7" style="font-family:'Liberation Serif',serif;font-weight:bold;stroke:#222;stroke-width:0.25px;font-size:12px" fill="#222">=</text>
<text transform="rotate(-90)" x="-288.9" y="364.7" style="font-family:'Liberation Serif',serif;font-weight:bold;stroke:#222;stroke-width:0.25px;font-size:12px" fill="#222">h</text>
<text transform="rotate(-90)" x="-282.1" y="370.3" style="font-family:'Liberation Serif',serif;font-weight:bold;stroke:#222;stroke-width:0.25px;font-size:10.5px" fill="#222">S2</text>
<text transform="rotate(-90)" x="-270.6" y="364.7" style="font-family:'Liberation Serif',serif;font-weight:bold;stroke:#222;stroke-width:0.25px;font-size:12px" fill="#222">=</text>
<text transform="rotate(-90)" x="-261.1" y="364.7" style="font-family:'Liberation Serif',serif;font-weight:bold;stroke:#222;stroke-width:0.25px;font-size:12px" fill="#222">h</text>
<text transform="rotate(-90)" x="-254.9" y="370.3" style="font-family:'Liberation Serif',serif;font-weight:bold;stroke:#222;stroke-width:0.25px;font-size:10.5px" fill="#222">S3</text>
<text transform="rotate(-90)" x="-243.0" y="364.7" style="font-family:'Liberation Serif',serif;font-weight:bold;stroke:#222;stroke-width:0.25px;font-size:12px" fill="#222">(nm)</text>
<g clip-path="url(#clipe)"><g filter="url(#jet)">
<rect x="33.3" y="379.1" width="268.70" height="139.70" fill="#fff"/>
<ellipse cx="78.3" cy="448.9" rx="45.0" ry="68.9" fill="#000" opacity="0.03" filter="url(#b6)"/>
<ellipse cx="43.3" cy="448.9" rx="7.0" ry="68.9" fill="#000" opacity="0.07" filter="url(#b3)"/>
<ellipse cx="48.3" cy="469.2" rx="5.0" ry="12.2" fill="#000" opacity="0.15" filter="url(#b3)"/>
<ellipse cx="98.3" cy="392.2" rx="12.0" ry="12.2" fill="#000" opacity="0.1" filter="url(#b4)"/>
<ellipse cx="268.3" cy="481.4" rx="30.0" ry="32.4" fill="#000" opacity="0.015" filter="url(#b8)"/>
<rect x="36.0" y="367.9" width="7.6" height="32.4" fill="url(#hp)" mask="url(#tent)" opacity="0.65"/>
<rect x="28.5" y="366.3" width="22.7" height="35.7" fill="url(#hp)" mask="url(#tent)" opacity="0.111"/>
<rect x="60.1" y="367.9" width="7.0" height="32.4" fill="url(#hp)" mask="url(#tent)" opacity="0.7"/>
<rect x="53.1" y="366.3" width="21.1" height="35.7" fill="url(#hp)" mask="url(#tent)" opacity="0.119"/>
<rect x="84.5" y="367.9" width="8.1" height="32.4" fill="url(#hp)" mask="url(#tent)" opacity="0.45"/>
<rect x="76.4" y="366.3" width="24.3" height="35.7" fill="url(#hp)" mask="url(#tent)" opacity="0.077"/>
<rect x="96.6" y="367.9" width="8.1" height="32.4" fill="url(#hp)" mask="url(#tent)" opacity="0.6"/>
<rect x="88.5" y="366.3" width="24.3" height="35.7" fill="url(#hp)" mask="url(#tent)" opacity="0.102"/>
<rect x="125.6" y="367.9" width="6.5" height="32.4" fill="url(#hp)" mask="url(#tent)" opacity="0.6"/>
<rect x="119.1" y="366.3" width="19.4" height="35.7" fill="url(#hp)" mask="url(#tent)" opacity="0.102"/>
<rect x="171.5" y="367.9" width="4.3" height="32.4" fill="url(#hp)" mask="url(#tent)" opacity="0.2"/>
<rect x="167.2" y="366.3" width="13.0" height="35.7" fill="url(#hp)" mask="url(#tent)" opacity="0.034"/>
<rect x="40.2" y="384.1" width="8.1" height="32.4" fill="url(#hp)" mask="url(#tent)" opacity="0.88"/>
<rect x="32.1" y="382.5" width="24.3" height="35.7" fill="url(#hp)" mask="url(#tent)" opacity="0.150"/>
<rect x="68.1" y="384.1" width="6.5" height="32.4" fill="url(#hp)" mask="url(#tent)" opacity="0.8"/>
<rect x="61.6" y="382.5" width="19.4" height="35.7" fill="url(#hp)" mask="url(#tent)" opacity="0.136"/>
<rect x="112.9" y="384.1" width="7.6" height="32.4" fill="url(#hp)" mask="url(#tent)" opacity="0.6"/>
<rect x="105.4" y="382.5" width="22.7" height="35.7" fill="url(#hp)" mask="url(#tent)" opacity="0.102"/>
<rect x="162.8" y="384.1" width="6.5" height="32.4" fill="url(#hp)" mask="url(#tent)" opacity="0.8"/>
<rect x="156.3" y="382.5" width="19.4" height="35.7" fill="url(#hp)" mask="url(#tent)" opacity="0.136"/>
<rect x="190.9" y="384.1" width="6.5" height="32.4" fill="url(#hp)" mask="url(#tent)" opacity="0.35"/>
<rect x="184.4" y="382.5" width="19.4" height="35.7" fill="url(#hp)" mask="url(#tent)" opacity="0.059"/>
<rect x="291.1" y="384.1" width="8.1" height="32.4" fill="url(#hp)" mask="url(#tent)" opacity="0.1"/>
<rect x="283.0" y="382.5" width="24.3" height="35.7" fill="url(#hp)" mask="url(#tent)" opacity="0.017"/>
<rect x="37.5" y="400.3" width="8.6" height="32.4" fill="url(#hp)" mask="url(#tent)" opacity="0.8"/>
<rect x="28.8" y="398.7" width="25.9" height="35.7" fill="url(#hp)" mask="url(#tent)" opacity="0.136"/>
<rect x="62.6" y="400.3" width="7.0" height="32.4" fill="url(#hp)" mask="url(#tent)" opacity="0.88"/>
<rect x="55.6" y="398.7" width="21.1" height="35.7" fill="url(#hp)" mask="url(#tent)" opacity="0.150"/>
<rect x="94.1" y="400.3" width="8.1" height="32.4" fill="url(#hp)" mask="url(#tent)" opacity="0.9"/>
<rect x="86.0" y="398.7" width="24.3" height="35.7" fill="url(#hp)" mask="url(#tent)" opacity="0.153"/>
<rect x="125.6" y="400.3" width="6.5" height="32.4" fill="url(#hp)" mask="url(#tent)" opacity="0.45"/>
<rect x="119.1" y="398.7" width="19.4" height="35.7" fill="url(#hp)" mask="url(#tent)" opacity="0.077"/>
<rect x="42.2" y="416.5" width="8.1" height="32.4" fill="url(#hp)" mask="url(#tent)" opacity="0.88"/>
<rect x="34.1" y="414.9" width="24.3" height="35.7" fill="url(#hp)" mask="url(#tent)" opacity="0.150"/>
<rect x="70.7" y="416.5" width="7.6" height="32.4" fill="url(#hp)" mask="url(#tent)" opacity="0.85"/>
<rect x="63.2" y="414.9" width="22.7" height="35.7" fill="url(#hp)" mask="url(#tent)" opacity="0.145"/>
<rect x="116.5" y="416.5" width="7.6" height="32.4" fill="url(#hp)" mask="url(#tent)" opacity="0.65"/>
<rect x="109.0" y="414.9" width="22.7" height="35.7" fill="url(#hp)" mask="url(#tent)" opacity="0.111"/>
<rect x="159.3" y="416.5" width="7.0" height="32.4" fill="url(#hp)" mask="url(#tent)" opacity="0.65"/>
<rect x="152.3" y="414.9" width="21.1" height="35.7" fill="url(#hp)" mask="url(#tent)" opacity="0.111"/>
<rect x="193.8" y="416.5" width="6.5" height="32.4" fill="url(#hp)" mask="url(#tent)" opacity="0.45"/>
<rect x="187.3" y="414.9" width="19.4" height="35.7" fill="url(#hp)" mask="url(#tent)" opacity="0.077"/>
<rect x="291.1" y="416.5" width="8.1" height="32.4" fill="url(#hp)" mask="url(#tent)" opacity="0.1"/>
<rect x="283.0" y="414.9" width="24.3" height="35.7" fill="url(#hp)" mask="url(#tent)" opacity="0.017"/>
<rect x="39.6" y="432.7" width="8.1" height="32.4" fill="url(#hp)" mask="url(#tent)" opacity="0.75"/>
<rect x="31.5" y="431.1" width="24.3" height="35.7" fill="url(#hp)" mask="url(#tent)" opacity="0.128"/>
<rect x="65.5" y="432.7" width="6.5" height="32.4" fill="url(#hp)" mask="url(#tent)" opacity="0.75"/>
<rect x="59.0" y="431.1" width="19.4" height="35.7" fill="url(#hp)" mask="url(#tent)" opacity="0.128"/>
<rect x="93.7" y="432.7" width="7.6" height="32.4" fill="url(#hp)" mask="url(#tent)" opacity="0.88"/>
<rect x="86.2" y="431.1" width="22.7" height="35.7" fill="url(#hp)" mask="url(#tent)" opacity="0.150"/>
<rect x="125.6" y="432.7" width="6.5" height="32.4" fill="url(#hp)" mask="url(#tent)" opacity="0.45"/>
<rect x="119.1" y="431.1" width="19.4" height="35.7" fill="url(#hp)" mask="url(#tent)" opacity="0.077"/>
<rect x="47.6" y="448.9" width="7.6" height="32.4" fill="url(#hp)" mask="url(#tent)" opacity="0.85"/>
<rect x="40.1" y="447.3" width="22.7" height="35.7" fill="url(#hp)" mask="url(#tent)" opacity="0.145"/>
<rect x="76.4" y="448.9" width="6.5" height="32.4" fill="url(#hp)" mask="url(#tent)" opacity="0.62"/>
<rect x="69.9" y="447.3" width="19.4" height="35.7" fill="url(#hp)" mask="url(#tent)" opacity="0.105"/>
<rect x="119.9" y="448.9" width="7.6" height="32.4" fill="url(#hp)" mask="url(#tent)" opacity="0.8"/>
<rect x="112.4" y="447.3" width="22.7" height="35.7" fill="url(#hp)" mask="url(#tent)" opacity="0.136"/>
<rect x="154.8" y="448.9" width="7.0" height="32.4" fill="url(#hp)" mask="url(#tent)" opacity="0.6"/>
<rect x="147.8" y="447.3" width="21.1" height="35.7" fill="url(#hp)" mask="url(#tent)" opacity="0.102"/>
<rect x="196.4" y="448.9" width="6.5" height="32.4" fill="url(#hp)" mask="url(#tent)" opacity="0.45"/>
<rect x="189.9" y="447.3" width="19.4" height="35.7" fill="url(#hp)" mask="url(#tent)" opacity="0.077"/>
<rect x="293.2" y="448.9" width="7.6" height="32.4" fill="url(#hp)" mask="url(#tent)" opacity="0.3"/>
<rect x="285.7" y="447.3" width="22.7" height="35.7" fill="url(#hp)" mask="url(#tent)" opacity="0.051"/>
<rect x="51.6" y="465.2" width="5.9" height="32.4" fill="url(#hp)" mask="url(#tent)" opacity="0.88"/>
<rect x="45.7" y="463.5" width="17.8" height="35.7" fill="url(#hp)" mask="url(#tent)" opacity="0.150"/>
<rect x="77.7" y="465.2" width="6.5" height="32.4" fill="url(#hp)" mask="url(#tent)" opacity="0.55"/>
<rect x="71.2" y="463.5" width="19.4" height="35.7" fill="url(#hp)" mask="url(#tent)" opacity="0.094"/>
<rect x="118.0" y="465.2" width="7.6" height="32.4" fill="url(#hp)" mask="url(#tent)" opacity="0.75"/>
<rect x="110.5" y="463.5" width="22.7" height="35.7" fill="url(#hp)" mask="url(#tent)" opacity="0.128"/>
<rect x="152.9" y="465.2" width="7.0" height="32.4" fill="url(#hp)" mask="url(#tent)" opacity="0.45"/>
<rect x="145.9" y="463.5" width="21.1" height="35.7" fill="url(#hp)" mask="url(#tent)" opacity="0.077"/>
<rect x="203.0" y="465.2" width="6.5" height="32.4" fill="url(#hp)" mask="url(#tent)" opacity="0.25"/>
<rect x="196.5" y="463.5" width="19.4" height="35.7" fill="url(#hp)" mask="url(#tent)" opacity="0.043"/>
<rect x="284.9" y="465.2" width="7.6" height="32.4" fill="url(#hp)" mask="url(#tent)" opacity="0.92"/>
<rect x="277.4" y="463.5" width="22.7" height="35.7" fill="url(#hp)" mask="url(#tent)" opacity="0.156"/>
<rect x="51.9" y="481.4" width="5.4" height="32.4" fill="url(#hp)" mask="url(#tent)" opacity="0.85"/>
<rect x="46.5" y="479.8" width="16.2" height="35.7" fill="url(#hp)" mask="url(#tent)" opacity="0.145"/>
<rect x="79.0" y="481.4" width="6.5" height="32.4" fill="url(#hp)" mask="url(#tent)" opacity="0.52"/>
<rect x="72.5" y="479.8" width="19.4" height="35.7" fill="url(#hp)" mask="url(#tent)" opacity="0.088"/>
<rect x="122.0" y="481.4" width="8.6" height="32.4" fill="url(#hp)" mask="url(#tent)" opacity="0.92"/>
<rect x="113.3" y="479.8" width="25.9" height="35.7" fill="url(#hp)" mask="url(#tent)" opacity="0.156"/>
<rect x="149.1" y="481.4" width="7.0" height="32.4" fill="url(#hp)" mask="url(#tent)" opacity="0.7"/>
<rect x="142.1" y="479.8" width="21.1" height="35.7" fill="url(#hp)" mask="url(#tent)" opacity="0.119"/>
<rect x="197.3" y="481.4" width="6.5" height="32.4" fill="url(#hp)" mask="url(#tent)" opacity="0.5"/>
<rect x="190.8" y="479.8" width="19.4" height="35.7" fill="url(#hp)" mask="url(#tent)" opacity="0.085"/>
<rect x="279.3" y="481.4" width="7.6" height="32.4" fill="url(#hp)" mask="url(#tent)" opacity="0.5"/>
<rect x="271.8" y="479.8" width="22.7" height="35.7" fill="url(#hp)" mask="url(#tent)" opacity="0.085"/>
<rect x="51.9" y="497.6" width="5.4" height="32.4" fill="url(#hp)" mask="url(#tent)" opacity="0.75"/>
<rect x="46.5" y="496.0" width="16.2" height="35.7" fill="url(#hp)" mask="url(#tent)" opacity="0.128"/>
<rect x="80.4" y="497.6" width="5.9" height="32.4" fill="url(#hp)" mask="url(#tent)" opacity="0.62"/>
<rect x="74.5" y="496.0" width="17.8" height="35.7" fill="url(#hp)" mask="url(#tent)" opacity="0.105"/>
<rect x="120.7" y="497.6" width="8.6" height="32.4" fill="url(#hp)" mask="url(#tent)" opacity="0.9"/>
<rect x="112.0" y="496.0" width="25.9" height="35.7" fill="url(#hp)" mask="url(#tent)" opacity="0.153"/>
<rect x="144.6" y="497.6" width="7.0" height="32.4" fill="url(#hp)" mask="url(#tent)" opacity="0.7"/>
<rect x="137.6" y="496.0" width="21.1" height="35.7" fill="url(#hp)" mask="url(#tent)" opacity="0.119"/>
<rect x="190.0" y="497.6" width="6.5" height="32.4" fill="url(#hp)" mask="url(#tent)" opacity="0.65"/>
<rect x="183.5" y="496.0" width="19.4" height="35.7" fill="url(#hp)" mask="url(#tent)" opacity="0.111"/>
<rect x="267.0" y="497.6" width="7.6" height="32.4" fill="url(#hp)" mask="url(#tent)" opacity="0.45"/>
<rect x="259.5" y="496.0" width="22.7" height="35.7" fill="url(#hp)" mask="url(#tent)" opacity="0.077"/>
</g></g>
<rect x="306.6" y="384.1" width="6.50" height="129.70" fill="url(#cbg)"/>
<line x1="311.5" y1="500.8" x2="313.1" y2="500.8" stroke="#222" stroke-width="0.7" stroke-opacity="0.6"/>
<line x1="311.5" y1="487.9" x2="313.1" y2="487.9" stroke="#222" stroke-width="0.7" stroke-opacity="0.6"/>
<line x1="311.5" y1="474.9" x2="313.1" y2="474.9" stroke="#222" stroke-width="0.7" stroke-opacity="0.6"/>
<line x1="311.5" y1="461.9" x2="313.1" y2="461.9" stroke="#222" stroke-width="0.7" stroke-opacity="0.6"/>
<line x1="311.5" y1="448.9" x2="313.1" y2="448.9" stroke="#222" stroke-width="0.7" stroke-opacity="0.6"/>
<line x1="311.5" y1="436.0" x2="313.1" y2="436.0" stroke="#222" stroke-width="0.7" stroke-opacity="0.6"/>
<line x1="311.5" y1="423.0" x2="313.1" y2="423.0" stroke="#222" stroke-width="0.7" stroke-opacity="0.6"/>
<line x1="311.5" y1="410.0" x2="313.1" y2="410.0" stroke="#222" stroke-width="0.7" stroke-opacity="0.6"/>
<line x1="311.5" y1="397.1" x2="313.1" y2="397.1" stroke="#222" stroke-width="0.7" stroke-opacity="0.6"/>
<text x="315.7" y="504.3" style="font-family:'Liberation Serif',serif;font-weight:bold;stroke:#222;stroke-width:0.25px;font-size:10px" fill="#222">0.1</text>
<text x="315.7" y="491.4" style="font-family:'Liberation Serif',serif;font-weight:bold;stroke:#222;stroke-width:0.25px;font-size:10px" fill="#222">0.2</text>
<text x="315.7" y="478.4" style="font-family:'Liberation Serif',serif;font-weight:bold;stroke:#222;stroke-width:0.25px;font-size:10px" fill="#222">0.3</text>
<text x="315.7" y="465.4" style="font-family:'Liberation Serif',serif;font-weight:bold;stroke:#222;stroke-width:0.25px;font-size:10px" fill="#222">0.4</text>
<text x="315.7" y="452.4" style="font-family:'Liberation Serif',serif;font-weight:bold;stroke:#222;stroke-width:0.25px;font-size:10px" fill="#222">0.5</text>
<text x="315.7" y="439.5" style="font-family:'Liberation Serif',serif;font-weight:bold;stroke:#222;stroke-width:0.25px;font-size:10px" fill="#222">0.6</text>
<text x="315.7" y="426.5" style="font-family:'Liberation Serif',serif;font-weight:bold;stroke:#222;stroke-width:0.25px;font-size:10px" fill="#222">0.7</text>
<text x="315.7" y="413.5" style="font-family:'Liberation Serif',serif;font-weight:bold;stroke:#222;stroke-width:0.25px;font-size:10px" fill="#222">0.8</text>
<text x="315.7" y="400.6" style="font-family:'Liberation Serif',serif;font-weight:bold;stroke:#222;stroke-width:0.25px;font-size:10px" fill="#222">0.9</text>
<text x="27.5" y="517.6" text-anchor="middle" style="font-family:'Liberation Serif',serif;font-weight:bold;stroke:#222;stroke-width:0.25px;font-size:11px" fill="#222">20</text>
<text x="27.5" y="485.2" text-anchor="middle" style="font-family:'Liberation Serif',serif;font-weight:bold;stroke:#222;stroke-width:0.25px;font-size:11px" fill="#222">60</text>
<text x="27.5" y="452.8" text-anchor="middle" style="font-family:'Liberation Serif',serif;font-weight:bold;stroke:#222;stroke-width:0.25px;font-size:11px" fill="#222">100</text>
<text x="27.5" y="420.3" text-anchor="middle" style="font-family:'Liberation Serif',serif;font-weight:bold;stroke:#222;stroke-width:0.25px;font-size:11px" fill="#222">140</text>
<text x="27.5" y="387.9" text-anchor="middle" style="font-family:'Liberation Serif',serif;font-weight:bold;stroke:#222;stroke-width:0.25px;font-size:11px" fill="#222">180</text>
<text x="38.3" y="526.8" text-anchor="middle" style="font-family:'Liberation Serif',serif;font-weight:bold;stroke:#222;stroke-width:0.25px;font-size:11px" fill="#222">0.7</text>
<text x="67.0" y="526.8" text-anchor="middle" style="font-family:'Liberation Serif',serif;font-weight:bold;stroke:#222;stroke-width:0.25px;font-size:11px" fill="#222">0.9</text>
<text x="95.8" y="526.8" text-anchor="middle" style="font-family:'Liberation Serif',serif;font-weight:bold;stroke:#222;stroke-width:0.25px;font-size:11px" fill="#222">1.1</text>
<text x="124.5" y="526.8" text-anchor="middle" style="font-family:'Liberation Serif',serif;font-weight:bold;stroke:#222;stroke-width:0.25px;font-size:11px" fill="#222">1.3</text>
<text x="153.3" y="526.8" text-anchor="middle" style="font-family:'Liberation Serif',serif;font-weight:bold;stroke:#222;stroke-width:0.25px;font-size:11px" fill="#222">1.5</text>
<text x="182.0" y="526.8" text-anchor="middle" style="font-family:'Liberation Serif',serif;font-weight:bold;stroke:#222;stroke-width:0.25px;font-size:11px" fill="#222">1.7</text>
<text x="210.8" y="526.8" text-anchor="middle" style="font-family:'Liberation Serif',serif;font-weight:bold;stroke:#222;stroke-width:0.25px;font-size:11px" fill="#222">1.9</text>
<text x="239.5" y="526.8" text-anchor="middle" style="font-family:'Liberation Serif',serif;font-weight:bold;stroke:#222;stroke-width:0.25px;font-size:11px" fill="#222">2.1</text>
<text x="268.3" y="526.8" text-anchor="middle" style="font-family:'Liberation Serif',serif;font-weight:bold;stroke:#222;stroke-width:0.25px;font-size:11px" fill="#222">2.3</text>
<text x="297.0" y="526.8" text-anchor="middle" style="font-family:'Liberation Serif',serif;font-weight:bold;stroke:#222;stroke-width:0.25px;font-size:11px" fill="#222">2.5</text>
<text x="167.7" y="540.3" text-anchor="middle" style="font-family:'Liberation Serif',serif;font-weight:bold;stroke:#222;stroke-width:0.25px;font-size:12.5px" fill="#222">Wavelength(<tspan style="font-style:italic;stroke-width:0">&#956;</tspan>m)</text>
<text x="42.4" y="380.6" style="font-family:'Liberation Serif',serif;font-weight:bold;stroke:#222;stroke-width:0.25px;font-size:17px" fill="#000">(e)</text>
<text transform="rotate(-90)" x="-466.6" y="10.0" style="font-family:'Liberation Serif',serif;font-weight:bold;stroke:#222;stroke-width:0.25px;font-size:12px" fill="#222">h</text>
<text transform="rotate(-90)" x="-460.3" y="15.6" style="font-family:'Liberation Serif',serif;font-weight:bold;stroke:#222;stroke-width:0.25px;font-size:10.5px" fill="#222">f</text>
<text transform="rotate(-90)" x="-456.1" y="10.0" style="font-family:'Liberation Serif',serif;font-weight:bold;stroke:#222;stroke-width:0.25px;font-size:12px" fill="#222">(nm)</text>
<g clip-path="url(#clipf)"><g filter="url(#jet)">
<rect x="388.8" y="380.7" width="268.40" height="139.40" fill="#fff"/>
<ellipse cx="433.8" cy="450.4" rx="45.0" ry="68.7" fill="#000" opacity="0.035" filter="url(#b6)"/>
<ellipse cx="398.8" cy="450.4" rx="7.0" ry="68.7" fill="#000" opacity="0.07" filter="url(#b3)"/>
<ellipse cx="455.8" cy="393.8" rx="10.0" ry="12.1" fill="#000" opacity="0.18" filter="url(#b4)"/>
<ellipse cx="445.8" cy="418.1" rx="8.0" ry="12.1" fill="#000" opacity="0.1" filter="url(#b4)"/>
<ellipse cx="518.8" cy="498.9" rx="12.0" ry="24.3" fill="#000" opacity="0.07" filter="url(#b6)"/>
<ellipse cx="543.8" cy="418.1" rx="18.0" ry="32.4" fill="#000" opacity="0.06" filter="url(#b6)"/>
<ellipse cx="528.8" cy="482.8" rx="8.0" ry="24.3" fill="#000" opacity="0.08" filter="url(#b5)"/>
<rect x="391.1" y="369.5" width="7.6" height="32.4" fill="url(#hp)" mask="url(#tent)" opacity="0.65"/>
<rect x="383.5" y="367.9" width="22.7" height="35.6" fill="url(#hp)" mask="url(#tent)" opacity="0.111"/>
<rect x="415.7" y="369.5" width="7.0" height="32.4" fill="url(#hp)" mask="url(#tent)" opacity="0.8"/>
<rect x="408.7" y="367.9" width="21.1" height="35.6" fill="url(#hp)" mask="url(#tent)" opacity="0.136"/>
<rect x="442.1" y="369.5" width="8.1" height="32.4" fill="url(#hp)" mask="url(#tent)" opacity="0.55"/>
<rect x="434.0" y="367.9" width="24.3" height="35.6" fill="url(#hp)" mask="url(#tent)" opacity="0.094"/>
<rect x="452.8" y="369.5" width="13.5" height="32.4" fill="url(#hp)" mask="url(#tent)" opacity="0.35"/>
<rect x="439.2" y="367.9" width="40.5" height="35.6" fill="url(#hp)" mask="url(#tent)" opacity="0.059"/>
<rect x="481.6" y="369.5" width="7.0" height="32.4" fill="url(#hp)" mask="url(#tent)" opacity="0.85"/>
<rect x="474.6" y="367.9" width="21.1" height="35.6" fill="url(#hp)" mask="url(#tent)" opacity="0.145"/>
<rect x="395.0" y="385.7" width="8.6" height="32.4" fill="url(#hp)" mask="url(#tent)" opacity="0.88"/>
<rect x="386.3" y="384.1" width="25.9" height="35.6" fill="url(#hp)" mask="url(#tent)" opacity="0.150"/>
<rect x="423.7" y="385.7" width="6.5" height="32.4" fill="url(#hp)" mask="url(#tent)" opacity="0.75"/>
<rect x="417.2" y="384.1" width="19.4" height="35.6" fill="url(#hp)" mask="url(#tent)" opacity="0.128"/>
<rect x="468.6" y="385.7" width="8.6" height="32.4" fill="url(#hp)" mask="url(#tent)" opacity="0.9"/>
<rect x="459.9" y="384.1" width="25.9" height="35.6" fill="url(#hp)" mask="url(#tent)" opacity="0.153"/>
<rect x="526.5" y="385.7" width="13.5" height="32.4" fill="url(#hp)" mask="url(#tent)" opacity="0.55"/>
<rect x="513.0" y="384.1" width="40.5" height="35.6" fill="url(#hp)" mask="url(#tent)" opacity="0.094"/>
<rect x="546.7" y="385.7" width="7.6" height="32.4" fill="url(#hp)" mask="url(#tent)" opacity="0.65"/>
<rect x="539.2" y="384.1" width="22.7" height="35.6" fill="url(#hp)" mask="url(#tent)" opacity="0.111"/>
<rect x="646.1" y="385.7" width="8.1" height="32.4" fill="url(#hp)" mask="url(#tent)" opacity="0.1"/>
<rect x="638.0" y="384.1" width="24.3" height="35.6" fill="url(#hp)" mask="url(#tent)" opacity="0.017"/>
<rect x="392.5" y="401.9" width="8.6" height="32.4" fill="url(#hp)" mask="url(#tent)" opacity="0.85"/>
<rect x="383.8" y="400.3" width="25.9" height="35.6" fill="url(#hp)" mask="url(#tent)" opacity="0.145"/>
<rect x="418.3" y="401.9" width="7.0" height="32.4" fill="url(#hp)" mask="url(#tent)" opacity="0.8"/>
<rect x="411.3" y="400.3" width="21.1" height="35.6" fill="url(#hp)" mask="url(#tent)" opacity="0.136"/>
<rect x="448.4" y="401.9" width="10.8" height="32.4" fill="url(#hp)" mask="url(#tent)" opacity="0.7"/>
<rect x="437.6" y="400.3" width="32.4" height="35.6" fill="url(#hp)" mask="url(#tent)" opacity="0.119"/>
<rect x="481.3" y="401.9" width="7.0" height="32.4" fill="url(#hp)" mask="url(#tent)" opacity="0.7"/>
<rect x="474.3" y="400.3" width="21.1" height="35.6" fill="url(#hp)" mask="url(#tent)" opacity="0.119"/>
<rect x="398.2" y="418.1" width="8.6" height="32.4" fill="url(#hp)" mask="url(#tent)" opacity="0.85"/>
<rect x="389.5" y="416.4" width="25.9" height="35.6" fill="url(#hp)" mask="url(#tent)" opacity="0.145"/>
<rect x="427.2" y="418.1" width="7.0" height="32.4" fill="url(#hp)" mask="url(#tent)" opacity="0.88"/>
<rect x="420.2" y="416.4" width="21.1" height="35.6" fill="url(#hp)" mask="url(#tent)" opacity="0.150"/>
<rect x="472.4" y="418.1" width="8.1" height="32.4" fill="url(#hp)" mask="url(#tent)" opacity="0.88"/>
<rect x="464.4" y="416.4" width="24.3" height="35.6" fill="url(#hp)" mask="url(#tent)" opacity="0.150"/>
<rect x="525.2" y="418.1" width="13.5" height="32.4" fill="url(#hp)" mask="url(#tent)" opacity="0.45"/>
<rect x="511.8" y="416.4" width="40.5" height="35.6" fill="url(#hp)" mask="url(#tent)" opacity="0.077"/>
<rect x="549.2" y="418.1" width="7.6" height="32.4" fill="url(#hp)" mask="url(#tent)" opacity="0.65"/>
<rect x="541.7" y="416.4" width="22.7" height="35.6" fill="url(#hp)" mask="url(#tent)" opacity="0.111"/>
<rect x="646.1" y="418.1" width="8.1" height="32.4" fill="url(#hp)" mask="url(#tent)" opacity="0.1"/>
<rect x="638.0" y="416.4" width="24.3" height="35.6" fill="url(#hp)" mask="url(#tent)" opacity="0.017"/>
<rect x="395.9" y="434.2" width="8.1" height="32.4" fill="url(#hp)" mask="url(#tent)" opacity="0.75"/>
<rect x="387.9" y="432.6" width="24.3" height="35.6" fill="url(#hp)" mask="url(#tent)" opacity="0.128"/>
<rect x="421.1" y="434.2" width="6.5" height="32.4" fill="url(#hp)" mask="url(#tent)" opacity="0.8"/>
<rect x="414.6" y="432.6" width="19.4" height="35.6" fill="url(#hp)" mask="url(#tent)" opacity="0.136"/>
<rect x="449.4" y="434.2" width="7.6" height="32.4" fill="url(#hp)" mask="url(#tent)" opacity="0.88"/>
<rect x="441.9" y="432.6" width="22.7" height="35.6" fill="url(#hp)" mask="url(#tent)" opacity="0.150"/>
<rect x="481.3" y="434.2" width="6.5" height="32.4" fill="url(#hp)" mask="url(#tent)" opacity="0.6"/>
<rect x="474.8" y="432.6" width="19.4" height="35.6" fill="url(#hp)" mask="url(#tent)" opacity="0.102"/>
<rect x="402.9" y="450.4" width="7.0" height="32.4" fill="url(#hp)" mask="url(#tent)" opacity="0.85"/>
<rect x="395.9" y="448.8" width="21.1" height="35.6" fill="url(#hp)" mask="url(#tent)" opacity="0.145"/>
<rect x="431.1" y="450.4" width="7.0" height="32.4" fill="url(#hp)" mask="url(#tent)" opacity="0.85"/>
<rect x="424.1" y="448.8" width="21.1" height="35.6" fill="url(#hp)" mask="url(#tent)" opacity="0.145"/>
<rect x="477.1" y="450.4" width="7.0" height="32.4" fill="url(#hp)" mask="url(#tent)" opacity="0.9"/>
<rect x="470.1" y="448.8" width="21.1" height="35.6" fill="url(#hp)" mask="url(#tent)" opacity="0.153"/>
<rect x="522.0" y="450.4" width="13.5" height="32.4" fill="url(#hp)" mask="url(#tent)" opacity="0.3"/>
<rect x="508.5" y="448.8" width="40.5" height="35.6" fill="url(#hp)" mask="url(#tent)" opacity="0.051"/>
<rect x="551.8" y="450.4" width="6.5" height="32.4" fill="url(#hp)" mask="url(#tent)" opacity="0.6"/>
<rect x="545.3" y="448.8" width="19.4" height="35.6" fill="url(#hp)" mask="url(#tent)" opacity="0.102"/>
<rect x="645.8" y="450.4" width="8.1" height="32.4" fill="url(#hp)" mask="url(#tent)" opacity="0.1"/>
<rect x="637.6" y="448.8" width="24.3" height="35.6" fill="url(#hp)" mask="url(#tent)" opacity="0.017"/>
<rect x="406.9" y="466.6" width="5.4" height="32.4" fill="url(#hp)" mask="url(#tent)" opacity="0.9"/>
<rect x="401.5" y="465.0" width="16.2" height="35.6" fill="url(#hp)" mask="url(#tent)" opacity="0.153"/>
<rect x="433.3" y="466.6" width="6.5" height="32.4" fill="url(#hp)" mask="url(#tent)" opacity="0.88"/>
<rect x="426.8" y="465.0" width="19.4" height="35.6" fill="url(#hp)" mask="url(#tent)" opacity="0.150"/>
<rect x="474.6" y="466.6" width="7.0" height="32.4" fill="url(#hp)" mask="url(#tent)" opacity="0.88"/>
<rect x="467.6" y="465.0" width="21.1" height="35.6" fill="url(#hp)" mask="url(#tent)" opacity="0.150"/>
<rect x="558.6" y="466.6" width="6.5" height="32.4" fill="url(#hp)" mask="url(#tent)" opacity="0.3"/>
<rect x="552.1" y="465.0" width="19.4" height="35.6" fill="url(#hp)" mask="url(#tent)" opacity="0.051"/>
<rect x="407.3" y="482.8" width="5.4" height="32.4" fill="url(#hp)" mask="url(#tent)" opacity="0.9"/>
<rect x="401.9" y="481.1" width="16.2" height="35.6" fill="url(#hp)" mask="url(#tent)" opacity="0.153"/>
<rect x="434.6" y="482.8" width="6.5" height="32.4" fill="url(#hp)" mask="url(#tent)" opacity="0.75"/>
<rect x="428.1" y="481.1" width="19.4" height="35.6" fill="url(#hp)" mask="url(#tent)" opacity="0.128"/>
<rect x="479.5" y="482.8" width="8.6" height="32.4" fill="url(#hp)" mask="url(#tent)" opacity="0.95"/>
<rect x="470.8" y="481.1" width="25.9" height="35.6" fill="url(#hp)" mask="url(#tent)" opacity="0.162"/>
<rect x="515.8" y="482.8" width="16.2" height="32.4" fill="url(#hp)" mask="url(#tent)" opacity="0.25"/>
<rect x="499.6" y="481.1" width="48.6" height="35.6" fill="url(#hp)" mask="url(#tent)" opacity="0.043"/>
<rect x="552.8" y="482.8" width="7.0" height="32.4" fill="url(#hp)" mask="url(#tent)" opacity="0.65"/>
<rect x="545.8" y="481.1" width="21.1" height="35.6" fill="url(#hp)" mask="url(#tent)" opacity="0.111"/>
<rect x="642.6" y="482.8" width="8.1" height="32.4" fill="url(#hp)" mask="url(#tent)" opacity="0.5"/>
<rect x="634.5" y="481.1" width="24.3" height="35.6" fill="url(#hp)" mask="url(#tent)" opacity="0.085"/>
<rect x="407.3" y="498.9" width="5.4" height="32.4" fill="url(#hp)" mask="url(#tent)" opacity="0.88"/>
<rect x="401.9" y="497.3" width="16.2" height="35.6" fill="url(#hp)" mask="url(#tent)" opacity="0.150"/>
<rect x="436.1" y="498.9" width="5.9" height="32.4" fill="url(#hp)" mask="url(#tent)" opacity="0.75"/>
<rect x="430.2" y="497.3" width="17.8" height="35.6" fill="url(#hp)" mask="url(#tent)" opacity="0.128"/>
<rect x="479.2" y="498.9" width="9.2" height="32.4" fill="url(#hp)" mask="url(#tent)" opacity="0.95"/>
<rect x="470.0" y="497.3" width="27.5" height="35.6" fill="url(#hp)" mask="url(#tent)" opacity="0.162"/>
<rect x="510.7" y="498.9" width="16.2" height="32.4" fill="url(#hp)" mask="url(#tent)" opacity="0.3"/>
<rect x="494.5" y="497.3" width="48.6" height="35.6" fill="url(#hp)" mask="url(#tent)" opacity="0.051"/>
<rect x="546.6" y="498.9" width="7.0" height="32.4" fill="url(#hp)" mask="url(#tent)" opacity="0.85"/>
<rect x="539.6" y="497.3" width="21.1" height="35.6" fill="url(#hp)" mask="url(#tent)" opacity="0.145"/>
<rect x="628.2" y="498.9" width="8.1" height="32.4" fill="url(#hp)" mask="url(#tent)" opacity="0.45"/>
<rect x="620.1" y="497.3" width="24.3" height="35.6" fill="url(#hp)" mask="url(#tent)" opacity="0.077"/>
</g></g>
<rect x="662.4" y="385.7" width="6.30" height="129.40" fill="url(#cbg)"/>
<line x1="667.1" y1="502.2" x2="668.7" y2="502.2" stroke="#222" stroke-width="0.7" stroke-opacity="0.6"/>
<line x1="667.1" y1="489.2" x2="668.7" y2="489.2" stroke="#222" stroke-width="0.7" stroke-opacity="0.6"/>
<line x1="667.1" y1="476.3" x2="668.7" y2="476.3" stroke="#222" stroke-width="0.7" stroke-opacity="0.6"/>
<line x1="667.1" y1="463.3" x2="668.7" y2="463.3" stroke="#222" stroke-width="0.7" stroke-opacity="0.6"/>
<line x1="667.1" y1="450.4" x2="668.7" y2="450.4" stroke="#222" stroke-width="0.7" stroke-opacity="0.6"/>
<line x1="667.1" y1="437.5" x2="668.7" y2="437.5" stroke="#222" stroke-width="0.7" stroke-opacity="0.6"/>
<line x1="667.1" y1="424.5" x2="668.7" y2="424.5" stroke="#222" stroke-width="0.7" stroke-opacity="0.6"/>
<line x1="667.1" y1="411.6" x2="668.7" y2="411.6" stroke="#222" stroke-width="0.7" stroke-opacity="0.6"/>
<line x1="667.1" y1="398.6" x2="668.7" y2="398.6" stroke="#222" stroke-width="0.7" stroke-opacity="0.6"/>
<text x="671.3" y="505.7" style="font-family:'Liberation Serif',serif;font-weight:bold;stroke:#222;stroke-width:0.25px;font-size:10px" fill="#222">0.1</text>
<text x="671.3" y="492.7" style="font-family:'Liberation Serif',serif;font-weight:bold;stroke:#222;stroke-width:0.25px;font-size:10px" fill="#222">0.2</text>
<text x="671.3" y="479.8" style="font-family:'Liberation Serif',serif;font-weight:bold;stroke:#222;stroke-width:0.25px;font-size:10px" fill="#222">0.3</text>
<text x="671.3" y="466.8" style="font-family:'Liberation Serif',serif;font-weight:bold;stroke:#222;stroke-width:0.25px;font-size:10px" fill="#222">0.4</text>
<text x="671.3" y="453.9" style="font-family:'Liberation Serif',serif;font-weight:bold;stroke:#222;stroke-width:0.25px;font-size:10px" fill="#222">0.5</text>
<text x="671.3" y="441.0" style="font-family:'Liberation Serif',serif;font-weight:bold;stroke:#222;stroke-width:0.25px;font-size:10px" fill="#222">0.6</text>
<text x="671.3" y="428.0" style="font-family:'Liberation Serif',serif;font-weight:bold;stroke:#222;stroke-width:0.25px;font-size:10px" fill="#222">0.7</text>
<text x="671.3" y="415.1" style="font-family:'Liberation Serif',serif;font-weight:bold;stroke:#222;stroke-width:0.25px;font-size:10px" fill="#222">0.8</text>
<text x="671.3" y="402.1" style="font-family:'Liberation Serif',serif;font-weight:bold;stroke:#222;stroke-width:0.25px;font-size:10px" fill="#222">0.9</text>
<text x="383.0" y="518.9" text-anchor="middle" style="font-family:'Liberation Serif',serif;font-weight:bold;stroke:#222;stroke-width:0.25px;font-size:11px" fill="#222">20</text>
<text x="383.0" y="486.6" text-anchor="middle" style="font-family:'Liberation Serif',serif;font-weight:bold;stroke:#222;stroke-width:0.25px;font-size:11px" fill="#222">60</text>
<text x="383.0" y="454.2" text-anchor="middle" style="font-family:'Liberation Serif',serif;font-weight:bold;stroke:#222;stroke-width:0.25px;font-size:11px" fill="#222">100</text>
<text x="383.0" y="421.9" text-anchor="middle" style="font-family:'Liberation Serif',serif;font-weight:bold;stroke:#222;stroke-width:0.25px;font-size:11px" fill="#222">140</text>
<text x="383.0" y="389.5" text-anchor="middle" style="font-family:'Liberation Serif',serif;font-weight:bold;stroke:#222;stroke-width:0.25px;font-size:11px" fill="#222">180</text>
<text x="393.8" y="528.1" text-anchor="middle" style="font-family:'Liberation Serif',serif;font-weight:bold;stroke:#222;stroke-width:0.25px;font-size:11px" fill="#222">0.7</text>
<text x="422.5" y="528.1" text-anchor="middle" style="font-family:'Liberation Serif',serif;font-weight:bold;stroke:#222;stroke-width:0.25px;font-size:11px" fill="#222">0.9</text>
<text x="451.2" y="528.1" text-anchor="middle" style="font-family:'Liberation Serif',serif;font-weight:bold;stroke:#222;stroke-width:0.25px;font-size:11px" fill="#222">1.1</text>
<text x="479.9" y="528.1" text-anchor="middle" style="font-family:'Liberation Serif',serif;font-weight:bold;stroke:#222;stroke-width:0.25px;font-size:11px" fill="#222">1.3</text>
<text x="508.6" y="528.1" text-anchor="middle" style="font-family:'Liberation Serif',serif;font-weight:bold;stroke:#222;stroke-width:0.25px;font-size:11px" fill="#222">1.5</text>
<text x="537.4" y="528.1" text-anchor="middle" style="font-family:'Liberation Serif',serif;font-weight:bold;stroke:#222;stroke-width:0.25px;font-size:11px" fill="#222">1.7</text>
<text x="566.1" y="528.1" text-anchor="middle" style="font-family:'Liberation Serif',serif;font-weight:bold;stroke:#222;stroke-width:0.25px;font-size:11px" fill="#222">1.9</text>
<text x="594.8" y="528.1" text-anchor="middle" style="font-family:'Liberation Serif',serif;font-weight:bold;stroke:#222;stroke-width:0.25px;font-size:11px" fill="#222">2.1</text>
<text x="623.5" y="528.1" text-anchor="middle" style="font-family:'Liberation Serif',serif;font-weight:bold;stroke:#222;stroke-width:0.25px;font-size:11px" fill="#222">2.3</text>
<text x="652.2" y="528.1" text-anchor="middle" style="font-family:'Liberation Serif',serif;font-weight:bold;stroke:#222;stroke-width:0.25px;font-size:11px" fill="#222">2.5</text>
<text x="523.0" y="541.6" text-anchor="middle" style="font-family:'Liberation Serif',serif;font-weight:bold;stroke:#222;stroke-width:0.25px;font-size:12.5px" fill="#222">Wavelength(<tspan style="font-style:italic;stroke-width:0">&#956;</tspan>m)</text>
<text x="397.9" y="382.2" style="font-family:'Liberation Serif',serif;font-weight:bold;stroke:#222;stroke-width:0.25px;font-size:17px" fill="#000">(f)</text>
<text transform="rotate(-90)" x="-468.1" y="365.5" style="font-family:'Liberation Serif',serif;font-weight:bold;stroke:#222;stroke-width:0.25px;font-size:12px" fill="#222">h</text>
<text transform="rotate(-90)" x="-461.8" y="371.1" style="font-family:'Liberation Serif',serif;font-weight:bold;stroke:#222;stroke-width:0.25px;font-size:10.5px" fill="#222">f</text>
<text transform="rotate(-90)" x="-457.6" y="365.5" style="font-family:'Liberation Serif',serif;font-weight:bold;stroke:#222;stroke-width:0.25px;font-size:12px" fill="#222">(nm)</text>
</svg></body></html>
